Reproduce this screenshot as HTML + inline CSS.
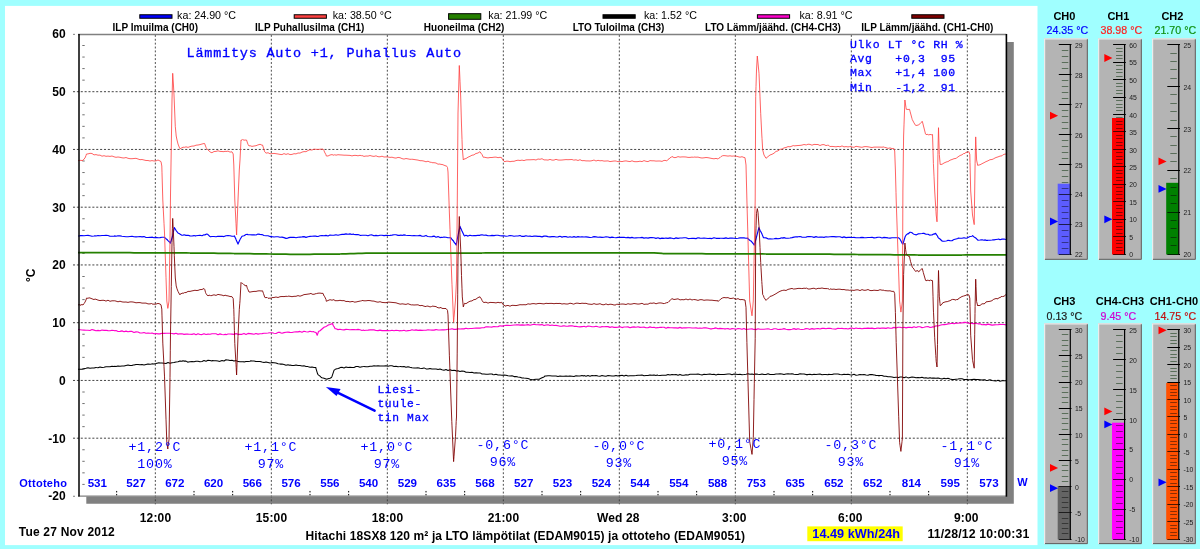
<!DOCTYPE html>
<html lang="fi"><head><meta charset="utf-8"><title>Hitachi 18SX8 lämpötilat</title>
<style>
html,body{margin:0;padding:0;background:#a0ffff;overflow:hidden}
svg{display:block;will-change:transform}
text{font-family:"Liberation Sans",sans-serif}
.b{font-weight:bold}
.m{font-family:"Liberation Mono",monospace;fill:#0000ff}
.mb{font-family:"Liberation Mono",monospace;fill:#0000ff;stroke:#0000ff;stroke-width:0.32}
.g{stroke:#333;stroke-width:0.92;stroke-dasharray:2.05 1.82;fill:none}
.gv{stroke:#3c3c3c;stroke-width:0.92;stroke-dasharray:1.9 1.97;fill:none}
</style></head><body>
<svg width="1200" height="549" viewBox="0 0 1200 549">
<rect x="0" y="0" width="1200" height="549" fill="#a0ffff"/>
<rect x="5" y="5.9" width="1032.5" height="539.2" fill="#ffffff"/>
<path d="M86.3,496.5 H1007 V42 H1013.8 V503.8 H86.3 Z" fill="#808080"/>
<rect x="78.0" y="33.95" width="928.0" height="462.00" fill="#ffffff"/>
<g class="g">
<path d="M73,91.70 H1006.0"/>
<path d="M73,149.45 H1006.0"/>
<path d="M73,207.20 H1006.0"/>
<path d="M73,264.95 H1006.0"/>
<path d="M73,322.70 H1006.0"/>
<path d="M73,380.45 H1006.0"/>
<path d="M73,438.20 H1006.0"/>
<path class="gv" d="M155.33,34.95 V504.3"/>
<path class="gv" d="M271.33,34.95 V504.3"/>
<path class="gv" d="M387.33,34.95 V504.3"/>
<path class="gv" d="M503.33,34.95 V504.3"/>
<path class="gv" d="M619.33,34.95 V504.3"/>
<path class="gv" d="M735.33,34.95 V504.3"/>
<path class="gv" d="M851.33,34.95 V504.3"/>
<path class="gv" d="M967.33,34.95 V504.3"/>
</g>
<path d="M73,34.35 h2 M73,496.25 h2" stroke="#808080" stroke-width="1" fill="none"/>
<path d="M82.3,484.40 h2.4 M82.3,472.85 h2.4 M82.3,461.30 h2.4 M82.3,449.75 h2.4 M82.3,426.65 h2.4 M82.3,415.10 h2.4 M82.3,403.55 h2.4 M82.3,392.00 h2.4 M82.3,368.90 h2.4 M82.3,357.35 h2.4 M82.3,345.80 h2.4 M82.3,334.25 h2.4 M82.3,311.15 h2.4 M82.3,299.60 h2.4 M82.3,288.05 h2.4 M82.3,276.50 h2.4 M82.3,253.40 h2.4 M82.3,241.85 h2.4 M82.3,230.30 h2.4 M82.3,218.75 h2.4 M82.3,195.65 h2.4 M82.3,184.10 h2.4 M82.3,172.55 h2.4 M82.3,161.00 h2.4 M82.3,137.90 h2.4 M82.3,126.35 h2.4 M82.3,114.80 h2.4 M82.3,103.25 h2.4 M82.3,80.15 h2.4 M82.3,68.60 h2.4 M82.3,57.05 h2.4 M82.3,45.50 h2.4" stroke="#606060" stroke-width="0.9" fill="none"/>
<path d="M116.67,495.45 v-4.5 M194.00,495.45 v-4.5 M232.67,495.45 v-4.5 M310.00,495.45 v-4.5 M348.67,495.45 v-4.5 M426.00,495.45 v-4.5 M464.67,495.45 v-4.5 M542.00,495.45 v-4.5 M580.67,495.45 v-4.5 M658.00,495.45 v-4.5 M696.67,495.45 v-4.5 M774.00,495.45 v-4.5 M812.67,495.45 v-4.5 M890.00,495.45 v-4.5 M928.67,495.45 v-4.5" stroke="#000" stroke-width="1" stroke-dasharray="1.5 1.5" fill="none"/>
<clipPath id="cp"><rect x="78.0" y="33.95" width="928.0" height="462.00"/></clipPath>
<g clip-path="url(#cp)" fill="none" stroke-linejoin="round">
<path d="M78.0,236.0 L79.8,235.9 L80.0,235.6 L82.0,235.5 L84.0,235.7 L86.0,235.5 L88.0,235.4 L90.0,235.7 L92.0,236.2 L94.0,236.0 L95.0,235.7 L96.0,236.0 L98.0,235.5 L100.0,235.8 L102.0,235.5 L104.0,235.5 L106.0,235.4 L108.0,235.5 L110.0,236.3 L112.0,236.2 L114.0,236.2 L114.8,235.9 L116.0,236.2 L118.0,235.7 L120.0,235.9 L122.0,236.3 L124.0,236.5 L126.0,236.7 L128.0,236.8 L130.0,236.5 L132.0,236.2 L134.0,236.8 L136.0,236.9 L138.0,236.8 L140.0,236.5 L142.0,236.9 L144.0,236.6 L146.0,237.5 L148.0,237.5 L150.0,237.3 L151.6,237.3 L152.0,237.1 L154.0,237.7 L156.0,237.4 L158.0,237.7 L160.0,237.6 L162.0,237.3 L164.0,237.2 L164.5,237.3 L166.0,238.7 L167.0,239.5 L168.0,240.6 L170.0,242.5 L170.3,243.2 L172.0,238.0 L172.4,236.8 L174.0,229.0 L174.3,227.5 L176.0,230.3 L178.0,233.0 L180.0,234.1 L180.5,234.6 L182.0,235.3 L183.0,235.2 L184.0,234.8 L186.0,235.4 L188.0,235.2 L190.0,235.9 L192.0,236.0 L194.0,235.6 L195.0,235.8 L196.0,235.8 L198.0,235.5 L200.0,235.2 L202.0,235.7 L204.0,234.8 L204.9,235.0 L206.0,234.3 L206.8,234.0 L208.0,234.6 L210.0,236.6 L210.4,236.8 L212.0,236.5 L214.0,236.5 L216.0,236.8 L218.0,236.2 L220.0,236.4 L222.0,236.2 L224.0,236.6 L226.0,235.7 L228.0,235.6 L230.0,235.7 L232.0,236.2 L234.0,236.0 L234.4,235.9 L236.0,239.3 L236.2,240.0 L238.0,244.1 L239.8,240.0 L240.0,239.5 L241.7,236.8 L242.0,236.3 L244.0,235.8 L246.0,234.5 L247.2,234.4 L248.0,234.6 L250.0,234.8 L252.0,234.9 L254.0,234.7 L256.0,235.0 L258.0,234.1 L260.0,234.4 L262.0,234.6 L264.0,235.5 L266.0,235.7 L268.0,235.7 L270.0,236.6 L271.2,236.4 L272.0,236.6 L274.0,237.0 L276.0,236.7 L278.0,236.8 L280.0,237.3 L282.0,237.1 L284.0,237.6 L286.0,238.4 L287.7,238.1 L288.0,237.9 L290.0,237.4 L292.0,237.3 L294.0,237.3 L296.0,237.7 L298.0,237.3 L300.0,237.1 L302.0,236.9 L304.0,236.6 L306.0,237.4 L308.0,236.7 L310.0,236.4 L312.0,236.2 L314.0,236.1 L316.0,236.1 L316.4,236.4 L318.0,236.5 L320.0,235.8 L322.0,235.5 L324.0,235.8 L326.0,235.4 L328.0,236.0 L330.0,235.0 L332.0,235.2 L334.0,235.3 L334.8,235.0 L336.0,234.8 L338.0,235.3 L340.0,234.7 L342.0,234.4 L344.0,234.4 L346.0,233.9 L348.0,234.2 L350.0,233.9 L352.0,234.5 L353.2,234.0 L354.0,234.5 L356.0,234.6 L358.0,234.5 L360.0,235.2 L360.5,235.5 L362.0,235.2 L364.0,235.2 L366.0,235.2 L368.0,235.8 L370.0,235.0 L372.0,234.9 L374.0,235.8 L376.0,235.4 L378.0,235.8 L380.0,235.3 L382.0,235.2 L384.0,235.6 L386.0,235.4 L388.0,235.5 L390.0,235.4 L392.0,235.1 L394.0,234.7 L396.0,234.8 L398.0,235.4 L400.0,235.4 L401.0,235.0 L402.0,235.5 L404.0,234.9 L406.0,235.3 L408.0,235.5 L410.0,235.5 L412.0,235.7 L414.0,235.5 L416.0,235.7 L418.0,235.8 L420.0,235.4 L422.0,236.2 L424.0,236.3 L426.0,235.4 L426.8,235.9 L428.0,236.5 L430.0,236.7 L432.0,236.6 L434.0,236.1 L436.0,237.2 L438.0,236.6 L440.0,237.6 L441.5,237.3 L442.0,237.5 L444.0,237.0 L446.0,237.2 L448.0,237.7 L450.0,237.7 L450.7,237.7 L452.0,239.5 L453.5,241.0 L454.0,242.2 L456.0,244.5 L456.2,245.1 L457.7,236.8 L458.0,235.4 L459.9,226.7 L460.0,226.4 L462.0,231.0 L464.0,235.3 L464.5,235.9 L466.0,235.3 L468.0,236.1 L470.0,235.2 L472.0,235.8 L474.0,235.6 L476.0,235.6 L478.0,235.2 L480.0,235.4 L480.1,235.0 L482.0,234.8 L484.0,235.3 L486.0,235.1 L488.0,235.7 L490.0,235.7 L492.0,235.4 L494.0,235.6 L496.0,235.2 L498.0,235.3 L500.0,235.8 L502.0,235.9 L504.0,235.8 L506.0,236.2 L508.0,236.0 L510.0,235.5 L512.0,235.8 L514.0,236.2 L516.0,236.0 L518.0,236.0 L520.0,235.5 L522.0,236.4 L524.0,236.4 L526.0,235.7 L528.0,236.2 L530.0,236.1 L532.0,236.5 L534.0,236.1 L536.0,236.1 L538.0,236.4 L540.0,236.4 L542.0,236.9 L544.0,236.1 L546.0,236.1 L548.0,236.6 L550.0,236.9 L552.0,236.6 L554.0,236.5 L556.0,237.0 L558.0,236.9 L560.0,236.3 L562.0,237.1 L564.0,236.5 L566.0,236.6 L568.0,237.2 L570.0,236.8 L572.0,237.2 L574.0,236.6 L576.0,237.3 L578.0,236.6 L580.0,237.0 L582.0,236.7 L584.0,237.0 L586.0,236.9 L588.0,237.1 L590.0,237.5 L592.0,237.3 L594.0,236.6 L596.0,236.9 L598.0,237.2 L600.0,237.1 L602.0,237.4 L604.0,237.2 L606.0,236.8 L608.0,237.0 L610.0,237.6 L612.0,237.1 L614.0,237.5 L616.0,237.8 L618.0,237.4 L620.0,237.5 L620.4,237.3 L622.0,237.4 L624.0,237.2 L626.0,237.8 L628.0,237.4 L630.0,237.9 L632.0,237.4 L634.0,238.0 L636.0,237.9 L638.0,237.8 L640.0,237.7 L642.0,237.4 L644.0,238.1 L646.0,237.7 L648.0,238.1 L650.0,237.6 L652.0,237.6 L654.0,237.7 L656.0,238.4 L658.0,237.8 L660.0,238.6 L662.0,238.1 L664.0,238.4 L664.5,238.3 L666.0,238.1 L668.0,238.4 L670.0,237.9 L672.0,238.2 L674.0,238.7 L676.0,237.9 L678.0,238.4 L680.0,238.0 L682.0,238.0 L684.0,237.7 L686.0,237.7 L688.0,238.6 L690.0,238.5 L692.0,238.4 L694.0,238.4 L696.0,238.6 L698.0,237.8 L700.0,238.1 L702.0,238.2 L704.0,238.1 L706.0,238.2 L708.0,238.5 L710.0,238.4 L712.0,238.6 L714.0,237.7 L716.0,238.3 L718.0,238.3 L720.0,238.3 L722.0,238.2 L724.0,238.4 L726.0,237.9 L728.0,238.5 L730.0,238.1 L732.0,238.0 L734.0,238.2 L736.0,238.5 L738.0,238.3 L740.0,237.9 L742.0,237.8 L744.0,237.9 L746.0,238.2 L747.8,238.1 L748.0,238.8 L750.0,240.5 L751.0,241.0 L752.0,242.1 L754.0,244.6 L754.3,245.1 L756.0,239.0 L756.1,238.6 L758.0,231.1 L758.9,227.6 L760.0,230.2 L761.0,232.0 L762.0,234.1 L763.5,237.7 L764.0,237.8 L766.0,237.9 L768.0,238.7 L768.1,239.0 L770.0,238.9 L772.0,239.0 L774.0,238.8 L776.0,238.4 L778.0,238.8 L780.0,238.4 L782.0,237.8 L782.8,238.1 L784.0,237.6 L786.0,238.3 L788.0,238.2 L790.0,238.0 L792.0,237.6 L794.0,237.1 L796.0,236.8 L798.0,236.8 L800.0,236.6 L801.2,236.8 L802.0,237.2 L804.0,237.2 L806.0,237.1 L808.0,236.5 L810.0,236.6 L812.0,236.7 L814.0,237.4 L816.0,236.6 L818.0,237.2 L820.0,237.1 L822.0,237.0 L824.0,237.4 L826.0,236.8 L828.0,237.0 L830.0,236.7 L832.0,236.6 L834.0,236.6 L836.0,236.9 L838.0,236.7 L840.0,236.7 L842.0,237.6 L844.0,236.9 L846.0,237.6 L848.0,237.4 L850.0,237.2 L852.0,237.5 L854.0,237.4 L856.0,237.7 L858.0,237.7 L860.0,237.6 L862.0,237.4 L864.0,237.6 L866.0,237.7 L868.0,237.5 L870.0,237.5 L872.0,237.2 L874.0,237.9 L876.0,237.6 L878.0,237.2 L880.0,237.3 L882.0,238.0 L884.0,237.4 L886.0,237.6 L888.0,237.9 L890.0,238.1 L892.0,237.8 L894.0,237.7 L896.0,237.7 L898.0,237.8 L898.7,237.9 L900.0,239.2 L901.0,241.0 L902.0,243.1 L902.9,244.2 L904.0,240.5 L905.1,236.8 L906.0,235.2 L907.5,233.8 L908.0,234.0 L910.0,232.2 L910.6,232.2 L912.0,232.7 L913.0,233.6 L914.0,234.3 L915.9,234.7 L916.0,235.0 L918.0,233.9 L920.0,233.7 L922.0,233.5 L923.3,233.2 L924.0,233.4 L926.0,234.2 L927.0,234.3 L928.0,234.2 L930.0,235.2 L930.6,235.0 L932.0,235.0 L933.5,234.0 L934.0,234.1 L935.8,233.4 L936.0,234.1 L937.5,236.0 L938.0,237.3 L938.9,238.3 L940.0,239.0 L942.0,241.0 L942.6,241.1 L944.0,241.3 L946.0,241.0 L947.0,240.8 L948.0,240.3 L950.0,240.6 L952.0,240.7 L952.7,240.2 L954.0,239.5 L956.0,239.0 L958.0,238.5 L958.2,238.0 L960.0,238.2 L962.0,238.2 L964.0,237.7 L966.0,238.2 L967.4,238.0 L968.0,237.4 L970.0,236.5 L972.0,236.2 L972.6,235.6 L974.0,236.9 L975.0,237.5 L976.0,238.2 L977.5,239.8 L978.0,240.2 L980.0,240.0 L982.0,239.7 L984.0,240.2 L985.0,239.9 L986.0,240.3 L988.0,240.3 L990.0,240.2 L992.0,240.0 L993.2,239.8 L994.0,239.9 L996.0,239.5 L998.0,239.2 L998.7,239.1 L1000.0,239.7 L1002.0,239.1 L1004.0,239.0 L1006.0,239.5" stroke="#0000ff" stroke-width="1.15"/>
<path d="M78.0,160.7 L80.0,160.3 L82.0,160.5 L83.0,160.4 L84.0,159.0 L85.0,158.0 L86.0,155.5 L86.5,154.0 L88.0,153.9 L89.0,153.6 L90.0,153.3 L92.0,153.5 L94.0,154.9 L96.0,154.6 L98.0,155.2 L100.0,155.1 L102.0,156.2 L104.0,155.7 L106.0,156.3 L108.0,156.1 L110.0,156.4 L112.0,156.0 L114.0,156.8 L116.0,157.3 L118.0,157.0 L120.0,157.3 L122.0,157.8 L124.0,158.0 L126.0,157.5 L128.0,158.3 L130.0,158.7 L132.0,158.7 L134.0,158.5 L136.0,158.3 L138.0,159.0 L140.0,159.7 L142.0,159.5 L144.0,160.0 L146.0,160.5 L148.0,160.5 L150.0,161.0 L152.0,160.6 L154.0,161.0 L156.0,160.9 L158.0,160.0 L160.0,161.0 L161.0,161.6 L161.8,166.0 L162.0,172.8 L162.8,200.0 L164.0,223.3 L164.5,233.0 L166.0,277.3 L166.8,301.0 L167.8,308.4 L168.0,307.7 L169.0,301.0 L170.0,240.0 L170.5,195.0 L171.3,146.0 L172.0,100.0 L172.7,73.3 L173.4,84.0 L174.0,95.0 L175.3,126.7 L176.0,133.9 L176.2,136.0 L177.0,140.0 L178.0,144.0 L179.7,148.3 L180.0,148.8 L181.0,148.4 L182.0,147.6 L184.0,147.1 L184.7,147.3 L186.0,146.8 L188.0,147.4 L190.0,146.6 L192.0,146.1 L194.0,146.0 L196.0,145.2 L198.0,145.0 L200.0,144.6 L202.0,144.0 L204.0,143.5 L204.6,143.5 L205.5,146.0 L206.0,147.3 L206.5,148.3 L208.0,150.0 L210.0,151.8 L211.0,152.5 L212.0,152.7 L214.0,151.5 L216.0,151.4 L218.0,150.8 L220.0,151.4 L222.0,151.5 L224.0,151.7 L225.0,151.2 L226.0,151.5 L228.0,151.1 L230.0,152.1 L232.0,151.8 L233.2,154.0 L233.8,165.0 L234.0,172.0 L234.8,200.0 L236.0,223.3 L236.6,235.0 L238.0,200.0 L239.3,170.0 L240.0,160.0 L241.0,140.0 L242.0,140.2 L242.6,139.5 L244.0,140.2 L246.0,140.0 L246.5,140.0 L247.5,143.0 L248.0,144.3 L249.0,146.0 L250.0,145.7 L252.0,146.4 L254.0,146.0 L256.0,145.7 L258.0,144.9 L260.0,144.3 L261.0,144.6 L262.0,145.3 L262.5,145.0 L263.5,148.0 L264.0,149.6 L264.7,151.8 L266.0,153.1 L267.0,153.0 L268.0,152.7 L270.0,153.8 L271.3,153.7 L272.0,153.6 L274.0,153.4 L276.0,153.7 L278.0,154.0 L280.0,154.4 L282.0,154.6 L284.0,153.6 L286.0,154.4 L288.0,153.7 L290.0,154.6 L292.0,154.4 L294.0,153.7 L296.0,153.9 L298.0,153.0 L300.0,153.1 L302.0,152.1 L304.0,151.6 L306.0,151.7 L308.0,150.5 L310.0,149.7 L311.0,150.0 L312.0,150.0 L314.0,149.2 L316.0,149.3 L318.0,149.5 L320.0,149.2 L322.0,149.2 L323.0,149.0 L324.0,150.6 L324.5,152.0 L326.0,154.8 L326.3,156.0 L328.0,156.0 L330.0,155.0 L332.0,154.6 L334.0,155.3 L334.7,154.7 L336.0,155.2 L338.0,154.7 L340.0,154.9 L342.0,155.0 L344.0,155.2 L346.0,155.2 L348.0,155.3 L350.0,155.4 L352.0,155.9 L354.0,155.4 L356.0,155.4 L358.0,155.8 L360.0,155.3 L361.3,155.7 L362.0,155.5 L364.0,156.4 L366.0,156.0 L368.0,156.1 L370.0,155.5 L372.0,156.1 L374.0,156.4 L376.0,155.8 L378.0,156.7 L380.0,156.8 L382.0,156.2 L384.0,157.0 L386.0,156.9 L388.0,157.0 L390.0,157.4 L392.0,157.2 L394.0,157.8 L396.0,158.1 L398.0,157.4 L400.0,157.7 L402.0,158.6 L404.0,159.1 L406.0,158.5 L408.0,158.9 L410.0,159.3 L411.3,159.3 L412.0,159.2 L414.0,159.5 L416.0,159.8 L418.0,160.1 L420.0,160.7 L422.0,160.7 L424.0,161.1 L426.0,161.8 L428.0,161.2 L430.0,162.2 L431.3,162.3 L432.0,162.7 L434.0,162.7 L436.0,163.0 L438.0,164.2 L440.0,164.0 L441.0,164.5 L442.0,164.4 L444.0,165.2 L446.0,166.0 L446.3,165.8 L447.5,167.5 L448.0,172.0 L449.4,213.0 L450.0,229.8 L451.8,280.0 L452.0,284.7 L453.6,322.3 L454.0,317.6 L455.5,300.0 L456.0,290.0 L456.5,280.0 L457.2,213.0 L458.0,113.0 L459.3,65.5 L460.0,81.2 L460.7,97.0 L461.5,125.0 L462.0,139.4 L462.3,148.0 L463.3,160.0 L464.0,159.1 L466.0,158.5 L468.0,157.2 L470.0,156.3 L472.0,155.2 L474.0,154.9 L475.0,154.0 L476.0,153.5 L478.0,153.0 L480.0,151.7 L481.5,154.0 L482.0,154.5 L483.3,157.3 L484.0,157.1 L486.0,157.6 L488.0,157.9 L490.0,157.5 L492.0,157.5 L494.0,157.2 L496.0,157.1 L498.0,157.7 L500.0,157.3 L501.7,157.7 L502.0,158.6 L503.0,160.0 L504.0,161.3 L505.0,161.7 L506.0,161.2 L508.0,161.2 L510.0,161.7 L512.0,161.3 L514.0,161.3 L516.0,160.6 L518.0,160.2 L520.0,160.5 L522.0,160.1 L524.0,160.6 L526.0,159.9 L528.0,159.8 L530.0,159.8 L532.0,159.7 L534.0,159.6 L536.0,160.0 L538.0,159.0 L540.0,159.3 L542.0,158.7 L544.0,159.9 L546.0,159.9 L548.0,160.1 L550.0,159.4 L552.0,160.1 L554.0,160.1 L556.0,159.3 L558.0,160.0 L560.0,160.1 L562.0,160.0 L564.0,159.8 L566.0,159.6 L568.0,159.7 L570.0,159.6 L572.0,159.5 L573.3,160.0 L574.0,160.1 L576.0,159.8 L578.0,160.5 L580.0,159.7 L582.0,160.7 L584.0,160.6 L586.0,160.9 L588.0,160.9 L590.0,161.0 L592.0,160.7 L594.0,160.0 L596.0,161.0 L598.0,160.3 L600.0,160.8 L602.0,160.6 L604.0,161.1 L606.0,161.0 L608.0,160.9 L610.0,161.6 L612.0,161.3 L614.0,161.0 L616.0,161.0 L616.7,161.3 L618.0,161.7 L620.0,161.3 L622.0,161.6 L624.0,161.1 L626.0,160.9 L628.0,161.3 L630.0,161.6 L632.0,160.8 L634.0,161.6 L636.0,161.7 L638.0,161.6 L640.0,161.2 L642.0,161.6 L644.0,160.6 L646.0,161.3 L648.0,161.6 L650.0,160.6 L652.0,160.8 L654.0,160.8 L656.0,161.1 L658.0,161.0 L660.0,161.0 L662.0,161.4 L664.0,160.4 L666.0,160.5 L666.7,161.0 L668.0,159.4 L669.0,159.0 L670.0,157.8 L671.7,157.0 L672.0,156.5 L674.0,157.6 L676.0,157.5 L678.0,156.6 L680.0,157.1 L682.0,156.9 L684.0,156.9 L686.0,157.0 L688.0,157.4 L690.0,157.4 L692.0,157.1 L693.3,157.3 L694.0,157.0 L696.0,157.2 L698.0,157.1 L700.0,157.7 L702.0,158.0 L704.0,157.8 L706.0,157.5 L708.0,157.7 L710.0,158.1 L712.0,158.5 L714.0,158.8 L716.0,158.4 L718.0,159.0 L718.3,158.7 L720.0,157.5 L720.5,157.0 L722.0,156.0 L722.7,155.7 L724.0,155.6 L726.0,155.8 L728.0,156.1 L730.0,155.8 L732.0,156.2 L733.3,156.0 L734.0,156.1 L736.0,156.1 L738.0,156.7 L740.0,157.2 L742.0,156.7 L744.0,157.5 L745.0,157.7 L746.0,165.0 L746.9,200.0 L748.0,239.7 L749.7,301.0 L750.0,302.9 L752.0,315.8 L753.3,301.0 L754.0,263.8 L755.2,200.0 L755.7,96.7 L756.0,86.7 L756.5,70.0 L757.3,56.0 L758.0,63.0 L758.2,65.0 L759.0,73.3 L760.0,96.8 L760.7,113.3 L761.8,135.0 L762.0,138.3 L762.7,150.0 L764.0,155.0 L766.0,158.3 L768.0,156.6 L770.0,155.0 L772.0,154.3 L774.0,153.2 L776.0,151.4 L778.0,150.9 L780.0,149.3 L782.0,149.1 L784.0,147.9 L786.0,147.5 L788.0,146.6 L790.0,146.8 L792.0,146.1 L793.3,145.5 L794.0,145.9 L796.0,145.7 L798.0,145.5 L800.0,145.4 L802.0,145.1 L804.0,144.5 L806.0,144.9 L806.7,144.8 L808.0,144.2 L810.0,144.4 L812.0,145.2 L814.0,144.4 L816.0,144.5 L818.0,144.5 L820.0,145.5 L822.0,144.7 L824.0,144.6 L826.0,145.6 L827.6,145.2 L828.0,144.9 L829.4,146.1 L830.0,146.5 L832.0,146.4 L834.0,146.6 L836.0,146.8 L838.0,146.4 L840.0,146.8 L842.0,145.9 L844.0,146.9 L846.0,146.6 L848.0,146.9 L849.7,146.7 L850.0,146.2 L852.0,147.0 L854.0,147.3 L856.0,146.3 L858.0,146.7 L860.0,147.0 L862.0,147.3 L864.0,146.7 L866.0,146.6 L868.0,146.8 L870.0,147.2 L872.0,147.5 L874.0,147.1 L876.0,147.1 L878.0,147.1 L880.0,147.1 L882.0,147.2 L884.0,146.9 L884.6,147.4 L886.0,147.6 L888.0,148.4 L890.0,147.9 L892.0,148.6 L893.8,148.5 L894.0,148.6 L894.7,151.0 L895.4,170.0 L896.0,192.5 L896.2,200.0 L898.0,253.5 L899.6,301.0 L900.0,304.4 L900.9,312.1 L902.0,304.0 L902.4,301.0 L902.9,191.0 L903.6,136.0 L904.0,124.9 L904.9,100.0 L905.6,105.0 L906.0,107.5 L906.3,109.3 L908.0,109.5 L909.5,109.3 L910.0,111.2 L912.0,118.7 L912.2,119.4 L914.0,122.9 L915.5,125.3 L916.0,125.5 L918.0,125.1 L918.7,125.0 L920.0,123.5 L920.5,123.0 L922.0,121.8 L922.3,121.3 L924.0,128.0 L925.5,134.0 L926.0,134.6 L928.0,134.3 L928.8,135.0 L930.0,134.4 L932.0,134.9 L932.5,134.5 L933.0,150.0 L933.4,163.6 L934.0,176.2 L934.7,191.0 L936.0,211.8 L936.2,215.0 L937.0,221.8 L937.5,200.0 L937.9,154.4 L938.0,149.9 L938.5,127.7 L939.3,154.4 L940.0,162.3 L940.2,164.5 L942.0,164.3 L944.0,163.0 L946.0,162.1 L947.2,161.7 L948.0,161.6 L950.0,160.2 L952.0,159.5 L954.0,158.7 L956.0,158.4 L956.4,158.1 L958.0,156.9 L960.0,155.5 L962.0,154.8 L963.7,153.5 L964.0,153.9 L966.0,152.4 L968.0,152.2 L968.9,151.6 L969.8,154.4 L970.0,162.5 L970.7,191.0 L972.0,208.3 L972.5,215.0 L974.0,223.5 L974.2,224.6 L974.7,191.0 L975.1,163.6 L975.7,136.9 L976.0,144.6 L976.6,160.0 L977.7,165.4 L978.0,165.2 L980.0,164.8 L982.0,163.7 L984.0,162.7 L986.0,161.6 L988.0,160.8 L990.0,159.7 L992.0,159.5 L993.2,159.0 L994.0,158.5 L996.0,157.5 L998.0,156.9 L1000.0,156.1 L1002.0,155.8 L1002.4,155.3 L1004.0,154.3 L1006.0,154.0" stroke="#ff4040" stroke-width="0.82"/>
<path d="M78.0,252.6 L82.0,252.6 L86.0,252.6 L90.0,252.6 L94.0,252.6 L98.0,252.7 L102.0,252.7 L106.0,252.7 L110.0,252.7 L114.0,252.7 L118.0,252.7 L122.0,252.7 L126.0,252.7 L130.0,252.7 L134.0,252.8 L138.0,252.8 L142.0,252.8 L146.0,252.8 L150.0,252.8 L151.0,252.8 L154.0,252.8 L158.0,252.8 L162.0,252.8 L166.0,252.9 L170.0,252.9 L174.0,252.9 L178.0,252.9 L182.0,252.9 L186.0,252.9 L190.0,253.0 L194.0,253.0 L198.0,253.0 L200.0,253.0 L202.0,253.0 L206.0,253.1 L210.0,253.1 L214.0,253.2 L218.0,253.3 L222.0,253.3 L226.0,253.4 L230.0,253.4 L234.0,253.5 L238.0,253.5 L242.0,253.6 L246.0,253.7 L250.0,253.7 L254.0,253.8 L258.0,253.8 L262.0,253.9 L266.0,253.9 L270.0,254.0 L274.0,254.1 L278.0,254.1 L282.0,254.2 L286.0,254.2 L290.0,254.3 L294.0,254.3 L298.0,254.4 L302.0,254.4 L306.0,254.3 L310.0,254.3 L314.0,254.2 L318.0,254.2 L322.0,254.2 L326.0,254.1 L330.0,254.1 L334.0,254.1 L338.0,254.0 L340.0,254.0 L342.0,253.9 L346.0,253.8 L350.0,253.7 L354.0,253.6 L358.0,253.4 L362.0,253.3 L366.0,253.2 L370.0,253.1 L371.6,253.0 L374.0,253.0 L378.0,253.0 L382.0,253.0 L386.0,253.0 L390.0,253.0 L394.0,253.0 L398.0,253.0 L402.0,253.0 L406.0,253.0 L410.0,253.0 L414.0,253.0 L418.0,253.0 L422.0,253.0 L426.0,253.0 L430.0,253.0 L434.0,253.0 L438.0,253.0 L442.0,253.0 L446.0,253.0 L450.0,253.0 L454.0,253.0 L458.0,253.0 L462.0,253.0 L466.0,253.0 L470.0,253.0 L474.0,253.0 L478.0,253.0 L482.0,253.0 L486.0,252.9 L490.0,252.9 L494.0,252.9 L498.0,252.9 L502.0,252.9 L506.0,252.9 L510.0,252.9 L514.0,252.9 L518.0,252.9 L522.0,252.9 L526.0,252.9 L530.0,252.9 L534.0,252.9 L538.0,252.9 L542.0,252.9 L546.0,252.9 L550.0,252.9 L554.0,252.9 L558.0,252.9 L562.0,252.9 L566.0,252.9 L570.0,252.9 L574.0,252.9 L578.0,252.9 L582.0,252.9 L586.0,252.8 L590.0,252.8 L594.0,252.8 L598.0,252.8 L602.0,252.8 L606.0,252.8 L610.0,252.8 L614.0,252.8 L618.0,252.8 L622.0,252.8 L626.0,252.8 L630.0,252.8 L634.0,252.8 L638.0,252.8 L642.0,252.8 L646.0,252.8 L650.0,252.8 L653.5,252.8 L654.0,252.8 L658.0,253.1 L662.0,253.4 L662.7,253.5 L666.0,253.5 L670.0,253.5 L674.0,253.6 L678.0,253.6 L682.0,253.6 L686.0,253.6 L690.0,253.7 L694.0,253.7 L698.0,253.7 L702.0,253.7 L706.0,253.8 L710.0,253.8 L714.0,253.8 L718.0,253.8 L722.0,253.9 L726.0,253.9 L730.0,253.9 L734.0,253.9 L738.0,253.9 L742.0,253.9 L746.0,253.9 L750.0,253.9 L754.0,253.9 L758.0,253.9 L762.0,253.9 L766.0,254.0 L770.0,254.0 L774.0,254.0 L778.0,254.0 L782.0,254.0 L786.0,254.0 L790.0,254.0 L794.0,254.0 L798.0,254.0 L800.0,254.0 L802.0,254.0 L806.0,254.0 L810.0,254.1 L814.0,254.1 L818.0,254.1 L822.0,254.2 L826.0,254.2 L830.0,254.2 L834.0,254.3 L838.0,254.3 L842.0,254.3 L846.0,254.4 L850.0,254.4 L854.0,254.4 L858.0,254.5 L862.0,254.5 L866.0,254.5 L870.0,254.6 L874.0,254.6 L878.0,254.6 L882.0,254.7 L886.0,254.7 L890.0,254.7 L894.0,254.8 L898.0,254.8 L900.0,254.8 L902.0,254.8 L906.0,254.9 L910.0,254.9 L914.0,254.9 L918.0,255.0 L920.0,255.0 L922.0,255.0 L926.0,255.0 L930.0,255.0 L934.0,255.0 L938.0,255.0 L942.0,255.0 L946.0,255.0 L950.0,255.0 L954.0,255.0 L958.0,255.0 L962.0,255.0 L966.0,254.9 L970.0,254.9 L974.0,254.9 L978.0,254.9 L982.0,254.9 L986.0,254.9 L990.0,254.9 L994.0,254.9 L998.0,254.9 L1002.0,254.9 L1006.0,254.9" stroke="#258000" stroke-width="1.75"/>
<path d="M78.0,369.2 L80.0,369.3 L82.0,369.2 L84.0,368.7 L86.0,368.3 L88.0,367.8 L90.0,368.3 L92.0,368.0 L94.0,368.1 L96.0,367.5 L96.4,367.6 L98.0,367.8 L100.0,367.1 L102.0,367.5 L104.0,367.3 L106.0,366.8 L108.0,366.8 L110.0,366.8 L112.0,366.2 L114.0,366.4 L114.8,366.3 L116.0,366.5 L118.0,365.9 L120.0,366.3 L122.0,366.0 L124.0,366.0 L126.0,365.4 L128.0,365.0 L130.0,365.6 L132.0,365.5 L133.2,365.1 L134.0,365.0 L136.0,364.5 L138.0,364.5 L140.0,364.8 L142.0,364.4 L144.0,364.9 L146.0,364.4 L148.0,363.9 L150.0,364.3 L151.6,364.0 L152.0,363.8 L154.0,364.0 L156.0,363.6 L158.0,362.9 L158.9,362.7 L160.0,362.9 L162.0,363.0 L164.0,363.2 L166.0,363.5 L168.0,362.6 L170.0,363.2 L172.0,362.7 L174.0,362.6 L176.0,361.9 L178.0,361.8 L180.0,360.9 L182.0,361.3 L182.9,360.8 L184.0,361.1 L186.0,361.1 L188.0,362.2 L188.4,362.1 L190.0,361.8 L192.0,361.6 L194.0,361.7 L196.0,361.2 L198.0,361.2 L200.0,361.7 L202.0,361.4 L204.0,360.6 L206.0,361.2 L208.0,360.3 L210.0,360.5 L212.0,360.9 L212.3,360.5 L214.0,360.8 L216.0,360.8 L218.0,361.1 L219.6,361.4 L220.0,361.2 L222.0,360.5 L224.0,361.0 L226.0,359.7 L227.0,359.9 L228.0,359.9 L230.0,360.5 L232.0,360.3 L234.0,361.1 L236.0,360.6 L238.0,361.6 L240.0,361.7 L242.0,361.7 L243.6,361.7 L244.0,362.0 L246.0,361.4 L248.0,361.5 L250.0,361.2 L250.9,360.8 L252.0,360.9 L254.0,361.1 L256.0,361.6 L258.0,361.5 L260.0,361.5 L262.0,362.1 L264.0,362.5 L266.0,362.1 L268.0,362.5 L270.0,362.9 L271.2,362.7 L272.0,362.5 L274.0,362.7 L276.0,363.1 L278.0,363.8 L280.0,363.9 L280.3,364.1 L282.0,364.1 L284.0,364.5 L286.0,365.2 L288.0,364.8 L289.5,365.2 L290.0,365.1 L292.0,365.6 L294.0,365.4 L296.0,365.1 L298.0,365.4 L300.0,365.6 L302.0,365.9 L304.0,365.8 L306.0,366.4 L308.0,366.6 L308.4,366.8 L310.0,367.2 L312.0,366.9 L314.0,367.4 L315.8,367.4 L316.0,368.6 L317.6,373.8 L318.0,374.6 L320.0,376.1 L321.3,377.5 L322.0,377.8 L324.0,378.2 L326.0,378.9 L326.8,379.3 L328.0,378.8 L330.0,378.3 L331.4,377.5 L332.0,376.4 L334.0,370.4 L334.2,370.1 L336.0,368.9 L338.0,368.5 L339.7,367.9 L340.0,367.4 L342.0,367.3 L344.0,367.9 L346.0,367.1 L348.0,367.6 L350.0,367.2 L352.0,367.6 L354.0,367.4 L356.0,366.5 L358.0,366.5 L360.0,367.2 L362.0,366.7 L363.6,366.5 L364.0,366.4 L366.0,366.7 L368.0,366.7 L370.0,366.3 L372.0,366.2 L374.0,365.8 L376.0,366.0 L378.0,365.7 L380.0,366.1 L382.0,365.9 L384.0,366.1 L386.0,365.7 L388.0,366.2 L390.0,365.8 L392.0,365.8 L394.0,366.4 L396.0,366.3 L398.0,366.8 L400.0,366.6 L400.4,366.5 L402.0,366.8 L404.0,366.4 L406.0,367.3 L408.0,366.7 L410.0,367.3 L412.0,367.8 L414.0,367.9 L416.0,368.1 L418.0,367.8 L418.8,367.9 L420.0,368.2 L422.0,368.4 L424.0,367.9 L426.0,368.9 L428.0,369.0 L430.0,368.6 L432.0,369.1 L434.0,368.9 L436.0,368.9 L437.2,369.2 L438.0,369.5 L440.0,369.0 L442.0,369.8 L444.0,370.2 L446.0,369.6 L448.0,370.4 L450.0,369.7 L452.0,370.6 L454.0,370.2 L455.6,370.5 L456.0,371.0 L458.0,370.7 L460.0,371.5 L462.0,370.9 L464.0,371.2 L466.0,372.2 L468.0,372.3 L470.0,372.4 L472.0,372.2 L474.0,372.9 L476.0,372.7 L478.0,373.1 L480.0,372.9 L482.0,374.0 L484.0,374.0 L486.0,374.3 L488.0,374.2 L490.0,374.0 L492.0,373.9 L492.4,374.4 L494.0,374.8 L496.0,374.3 L498.0,375.0 L500.0,375.1 L502.0,375.3 L504.0,375.0 L506.0,375.2 L508.0,375.8 L510.0,376.0 L512.0,375.8 L514.0,376.6 L516.0,376.6 L518.0,377.0 L520.0,377.2 L522.0,377.9 L524.0,378.1 L526.0,378.2 L528.0,378.5 L530.0,379.2 L532.0,379.8 L533.9,379.7 L534.0,379.6 L536.0,379.2 L538.0,379.2 L539.4,379.3 L540.0,378.7 L542.0,377.8 L544.0,376.9 L545.0,376.0 L546.0,376.1 L548.0,375.7 L550.0,375.8 L552.0,375.9 L554.0,375.9 L556.0,375.9 L558.0,376.5 L560.0,376.1 L562.0,376.2 L564.0,376.2 L566.0,376.1 L568.0,376.3 L570.0,375.9 L572.0,376.2 L574.0,376.5 L576.0,375.7 L578.0,376.1 L580.0,375.9 L582.0,375.6 L583.6,376.0 L584.0,375.5 L586.0,376.2 L588.0,375.6 L590.0,376.2 L592.0,375.5 L594.0,375.8 L596.0,375.4 L598.0,375.9 L600.0,376.2 L602.0,375.6 L604.0,375.9 L606.0,376.2 L608.0,375.6 L610.0,375.8 L612.0,376.0 L614.0,376.1 L616.0,375.4 L618.0,375.9 L620.0,375.3 L620.4,375.7 L622.0,375.3 L624.0,376.1 L626.0,375.2 L628.0,376.0 L630.0,375.8 L632.0,375.7 L634.0,375.7 L636.0,375.6 L638.0,375.2 L640.0,375.3 L642.0,375.0 L644.0,375.7 L646.0,375.6 L648.0,375.5 L650.0,374.9 L652.0,375.3 L654.0,374.9 L656.0,375.4 L657.2,375.1 L658.0,375.3 L660.0,375.6 L662.0,375.3 L664.0,375.2 L666.0,375.3 L668.0,374.6 L670.0,375.0 L672.0,374.5 L674.0,374.8 L676.0,374.5 L678.0,375.3 L680.0,374.4 L682.0,375.2 L684.0,375.2 L686.0,374.7 L688.0,375.1 L690.0,374.3 L692.0,374.3 L694.0,374.2 L696.0,374.2 L698.0,374.1 L700.0,374.6 L702.0,374.9 L704.0,374.2 L706.0,374.6 L708.0,374.3 L710.0,374.1 L712.0,374.4 L714.0,374.2 L716.0,374.9 L718.0,374.3 L720.0,374.5 L722.0,374.5 L724.0,374.5 L726.0,374.3 L728.0,374.1 L730.0,374.0 L732.0,374.7 L734.0,374.0 L736.0,374.2 L738.0,374.6 L740.0,374.3 L742.0,374.7 L744.0,374.5 L746.0,374.2 L748.0,373.8 L750.0,374.2 L752.0,374.1 L754.0,374.5 L755.2,374.1 L756.0,374.1 L758.0,374.3 L760.0,374.4 L762.0,374.1 L764.0,374.5 L766.0,374.5 L768.0,373.8 L770.0,374.6 L772.0,374.5 L774.0,374.5 L776.0,374.0 L778.0,373.9 L780.0,373.8 L782.0,374.0 L784.0,374.5 L786.0,374.0 L788.0,373.7 L790.0,374.0 L792.0,373.8 L794.0,374.3 L796.0,374.5 L798.0,374.6 L800.0,373.8 L802.0,374.1 L804.0,373.9 L806.0,374.6 L808.0,374.6 L810.0,374.3 L812.0,374.7 L814.0,374.3 L816.0,374.5 L818.0,374.3 L820.0,374.1 L822.0,374.8 L824.0,374.6 L826.0,374.4 L828.0,374.7 L828.8,374.3 L830.0,374.5 L832.0,374.6 L834.0,373.9 L836.0,374.0 L838.0,374.0 L840.0,374.6 L842.0,374.7 L844.0,374.2 L846.0,374.6 L848.0,374.2 L850.0,374.8 L852.0,374.9 L854.0,374.3 L856.0,375.2 L858.0,374.9 L860.0,374.4 L862.0,374.7 L864.0,374.5 L866.0,375.1 L868.0,375.3 L870.0,374.6 L872.0,374.6 L874.0,375.1 L874.8,375.0 L876.0,375.5 L878.0,375.6 L880.0,375.6 L882.0,375.5 L884.0,376.2 L885.8,376.3 L886.0,376.3 L888.0,376.8 L890.0,376.7 L892.0,377.1 L894.0,377.5 L896.0,377.3 L897.5,377.3 L898.0,377.7 L900.0,377.1 L902.0,376.9 L904.0,377.8 L906.0,376.9 L908.0,377.9 L910.0,377.4 L912.0,377.0 L914.0,377.3 L915.0,377.5 L916.0,377.8 L918.0,377.5 L920.0,377.8 L922.0,377.3 L924.0,378.1 L926.0,377.8 L928.0,378.3 L930.0,377.7 L932.0,378.3 L932.5,378.1 L934.0,378.1 L936.0,378.2 L938.0,377.9 L940.0,378.5 L942.0,378.9 L944.0,378.2 L946.0,378.7 L948.0,378.3 L950.0,378.9 L952.0,379.4 L954.0,379.5 L956.0,379.2 L958.0,379.1 L960.0,378.7 L962.0,378.8 L964.0,379.4 L966.0,379.6 L967.5,379.3 L968.0,379.8 L970.0,379.7 L972.0,379.4 L974.0,379.2 L976.0,379.6 L978.0,379.4 L980.0,379.7 L982.0,380.1 L984.0,379.7 L985.0,379.8 L986.0,380.4 L988.0,380.3 L990.0,379.8 L992.0,380.6 L994.0,380.7 L996.0,380.9 L996.7,380.8 L998.0,380.3 L1000.0,381.2 L1002.0,380.8 L1004.0,380.8 L1006.0,380.8" stroke="#000000" stroke-width="1.05"/>
<path d="M78.0,329.6 L80.0,329.8 L82.0,330.0 L84.0,330.1 L86.0,330.3 L88.0,330.2 L90.0,330.5 L92.0,329.5 L94.0,330.1 L96.0,330.7 L98.0,330.4 L100.0,330.8 L102.0,330.0 L104.0,330.4 L106.0,330.2 L108.0,330.6 L110.0,330.7 L112.0,330.2 L114.0,330.5 L114.8,330.8 L116.0,330.6 L118.0,331.5 L120.0,331.4 L122.0,330.9 L124.0,331.7 L126.0,331.1 L128.0,331.8 L130.0,331.4 L132.0,331.4 L134.0,332.5 L136.0,331.9 L138.0,332.0 L140.0,333.0 L142.0,333.0 L144.0,332.5 L146.0,333.3 L148.0,333.0 L150.0,333.3 L151.6,333.2 L152.0,332.9 L154.0,333.8 L156.0,333.5 L158.0,333.9 L160.0,333.9 L162.0,333.3 L164.0,333.4 L166.0,333.2 L168.0,333.3 L170.0,333.2 L172.0,333.5 L174.0,333.9 L176.0,333.3 L178.0,334.1 L180.0,333.8 L182.0,333.8 L184.0,334.4 L186.0,334.1 L188.0,334.0 L188.4,334.2 L190.0,334.2 L192.0,334.4 L194.0,333.7 L196.0,334.7 L198.0,333.7 L200.0,334.5 L202.0,334.6 L204.0,333.7 L206.0,334.5 L208.0,334.1 L210.0,334.3 L212.0,333.7 L214.0,333.7 L216.0,333.8 L218.0,334.7 L220.0,333.9 L222.0,334.5 L224.0,334.7 L225.2,334.2 L226.0,334.7 L228.0,334.0 L230.0,334.0 L232.0,334.1 L234.0,334.4 L236.0,333.6 L238.0,334.3 L240.0,334.3 L242.0,334.3 L244.0,333.4 L246.0,334.4 L248.0,333.4 L250.0,333.6 L252.0,333.9 L254.0,334.2 L256.0,333.5 L258.0,334.1 L260.0,333.7 L262.0,333.6 L264.0,333.3 L266.0,333.2 L268.0,333.0 L270.0,332.7 L272.0,332.7 L274.0,333.2 L276.0,333.5 L278.0,332.4 L280.0,332.2 L280.3,332.7 L282.0,333.2 L284.0,332.6 L286.0,332.3 L288.0,332.1 L290.0,332.4 L292.0,332.5 L294.0,332.0 L296.0,331.9 L298.0,331.9 L300.0,331.4 L302.0,332.3 L304.0,331.2 L306.0,331.7 L308.0,332.0 L310.0,331.2 L312.0,331.8 L313.9,331.5 L314.0,332.0 L316.0,332.5 L317.2,335.2 L318.0,333.1 L318.5,331.5 L320.0,330.7 L322.0,329.0 L324.0,327.3 L326.0,326.4 L326.8,326.0 L328.0,325.1 L330.0,324.5 L332.0,323.7 L332.3,323.2 L333.5,326.0 L334.0,326.6 L335.1,328.7 L336.0,328.8 L338.0,329.6 L340.0,329.3 L342.0,329.7 L344.0,329.9 L346.0,329.4 L348.0,329.5 L350.0,329.8 L352.0,329.6 L354.0,329.5 L356.0,329.7 L358.0,329.4 L360.0,329.8 L362.0,330.5 L363.6,330.0 L364.0,330.5 L366.0,330.2 L368.0,330.1 L370.0,329.9 L372.0,329.7 L374.0,329.9 L376.0,330.5 L378.0,330.6 L380.0,330.1 L382.0,330.6 L384.0,330.6 L386.0,330.6 L388.0,330.6 L390.0,330.7 L392.0,330.3 L394.0,330.7 L396.0,330.3 L398.0,330.5 L400.0,330.9 L400.4,330.6 L402.0,330.8 L404.0,330.3 L406.0,331.0 L408.0,330.6 L410.0,330.5 L412.0,329.8 L414.0,330.3 L416.0,329.9 L418.0,330.4 L420.0,330.1 L422.0,330.4 L424.0,330.2 L426.0,330.3 L428.0,329.8 L430.0,330.0 L432.0,330.1 L434.0,330.1 L436.0,329.6 L437.2,329.7 L438.0,330.0 L440.0,330.0 L442.0,329.7 L444.0,329.9 L446.0,329.8 L448.0,329.3 L450.0,329.2 L452.0,328.7 L454.0,329.4 L456.0,329.4 L458.0,328.8 L460.0,329.0 L462.0,328.9 L464.0,328.9 L466.0,328.2 L468.0,328.8 L470.0,328.5 L472.0,328.5 L474.0,328.2 L476.0,328.0 L478.0,328.1 L480.0,328.1 L482.0,327.8 L484.0,327.7 L486.0,326.8 L488.0,326.8 L490.0,327.0 L492.0,327.1 L492.4,326.9 L494.0,326.5 L496.0,326.8 L498.0,326.6 L500.0,325.8 L502.0,326.1 L504.0,325.7 L506.0,325.3 L508.0,325.3 L510.0,325.5 L512.0,325.2 L514.0,325.0 L516.0,324.9 L518.0,324.7 L520.0,325.1 L522.0,324.9 L524.0,325.1 L526.0,325.0 L528.0,324.6 L530.0,325.2 L532.0,324.7 L534.0,324.2 L536.0,324.7 L538.0,324.7 L540.0,324.9 L542.0,324.6 L544.0,325.5 L546.0,325.0 L548.0,324.7 L550.0,325.5 L552.0,325.0 L554.0,325.5 L556.0,325.4 L558.0,325.7 L560.0,326.2 L562.0,326.1 L564.0,325.7 L566.0,326.2 L568.0,326.1 L570.0,325.9 L572.0,325.7 L574.0,326.3 L576.0,326.3 L578.0,326.8 L580.0,326.9 L582.0,326.6 L583.6,326.5 L584.0,326.3 L586.0,327.0 L588.0,326.0 L590.0,326.2 L592.0,326.7 L594.0,326.8 L596.0,326.3 L598.0,326.8 L600.0,327.2 L602.0,326.6 L604.0,326.7 L606.0,326.5 L608.0,326.6 L610.0,327.4 L612.0,326.8 L614.0,327.4 L616.0,327.4 L618.0,327.1 L620.0,326.7 L622.0,327.6 L624.0,327.0 L626.0,327.0 L628.0,326.9 L630.0,327.7 L632.0,327.1 L634.0,326.9 L636.0,327.2 L638.0,326.8 L640.0,327.4 L642.0,327.2 L644.0,327.1 L646.0,327.7 L648.0,327.7 L650.0,326.9 L652.0,327.5 L654.0,327.2 L656.0,328.0 L657.2,327.5 L658.0,327.8 L660.0,327.3 L662.0,327.3 L664.0,327.2 L666.0,328.2 L668.0,327.4 L670.0,327.8 L672.0,327.7 L674.0,327.9 L676.0,327.9 L678.0,328.1 L680.0,327.4 L682.0,328.1 L684.0,327.7 L686.0,327.9 L688.0,327.8 L690.0,327.7 L692.0,328.0 L694.0,328.0 L696.0,327.9 L698.0,328.3 L700.0,328.1 L702.0,328.2 L704.0,327.7 L706.0,327.9 L708.0,328.2 L710.0,328.8 L712.0,328.8 L714.0,328.4 L716.0,327.9 L718.0,328.8 L720.0,328.4 L722.0,328.6 L724.0,328.8 L726.0,328.8 L728.0,328.6 L730.0,329.2 L732.0,328.6 L734.0,328.7 L736.0,329.2 L738.0,328.5 L740.0,328.7 L742.0,329.3 L744.0,328.5 L746.0,329.4 L748.0,329.3 L750.0,329.0 L752.0,328.9 L754.0,329.5 L755.2,329.2 L756.0,329.6 L758.0,328.8 L760.0,329.2 L762.0,329.2 L764.0,329.2 L766.0,329.0 L768.0,328.8 L770.0,329.2 L772.0,329.5 L774.0,328.7 L776.0,328.8 L778.0,329.5 L780.0,329.4 L782.0,329.3 L784.0,328.6 L786.0,329.3 L788.0,329.6 L790.0,329.6 L792.0,329.3 L794.0,328.6 L796.0,329.4 L798.0,328.7 L800.0,329.2 L802.0,329.5 L804.0,329.3 L806.0,328.6 L808.0,328.8 L810.0,329.5 L810.4,329.0 L812.0,328.6 L814.0,329.1 L816.0,328.8 L818.0,328.5 L820.0,329.0 L822.0,328.4 L824.0,328.4 L826.0,328.7 L828.0,328.3 L830.0,328.3 L832.0,328.8 L834.0,329.0 L836.0,329.1 L838.0,328.2 L840.0,328.5 L842.0,328.4 L844.0,328.7 L846.0,328.5 L848.0,329.0 L850.0,328.4 L852.0,328.0 L854.0,328.7 L856.0,328.0 L858.0,328.5 L860.0,328.4 L862.0,328.8 L864.0,328.4 L865.6,328.3 L866.0,328.4 L868.0,328.1 L870.0,328.4 L872.0,328.1 L874.0,328.6 L876.0,328.4 L878.0,328.0 L880.0,328.4 L882.0,328.0 L884.0,328.1 L886.0,328.4 L888.0,327.7 L890.0,328.2 L892.0,328.1 L894.0,327.4 L896.0,328.0 L898.0,327.3 L900.0,327.2 L902.0,327.7 L903.3,327.5 L904.0,327.2 L906.0,327.9 L908.0,327.4 L910.0,327.2 L912.0,327.6 L914.0,326.8 L916.0,327.5 L918.0,326.7 L920.0,326.8 L922.0,327.6 L924.0,327.3 L926.0,326.7 L928.0,326.6 L930.0,327.5 L932.0,327.1 L932.5,326.9 L934.0,327.0 L936.0,325.8 L938.0,326.0 L940.0,325.3 L942.0,324.7 L944.0,324.5 L944.2,324.6 L946.0,324.5 L948.0,323.9 L950.0,323.7 L952.0,323.2 L954.0,323.7 L955.8,323.1 L956.0,323.2 L958.0,323.2 L960.0,322.7 L962.0,323.0 L964.0,322.4 L965.2,322.3 L966.0,322.6 L968.0,322.9 L970.0,323.5 L972.0,323.4 L973.3,323.8 L974.0,323.4 L976.0,323.5 L978.0,323.8 L980.0,323.8 L982.0,324.8 L984.0,324.5 L985.0,324.6 L986.0,324.9 L988.0,324.1 L990.0,324.6 L992.0,325.1 L994.0,324.9 L996.0,324.7 L998.0,324.7 L1000.0,324.4 L1002.0,324.5 L1004.0,324.5 L1006.0,324.9" stroke="#ff00cc" stroke-width="1.15"/>
<path d="M78.0,304.9 L79.8,304.7 L80.0,305.3 L82.0,304.5 L83.0,305.0 L84.0,303.6 L85.0,302.1 L86.0,300.0 L86.5,298.1 L88.0,298.3 L89.0,297.8 L90.0,298.0 L92.0,298.8 L94.0,299.6 L95.0,299.0 L96.0,299.3 L98.0,300.1 L100.0,300.6 L102.0,300.3 L104.0,300.3 L106.0,301.1 L108.0,300.2 L110.0,301.3 L112.0,300.8 L114.0,300.8 L114.8,300.8 L116.0,301.1 L118.0,301.8 L120.0,301.2 L122.0,301.9 L124.0,302.1 L126.0,302.0 L128.0,302.4 L130.0,301.9 L132.0,301.9 L134.0,302.2 L136.0,302.8 L138.0,302.6 L140.0,302.6 L142.0,303.1 L144.0,303.1 L146.0,303.1 L148.0,303.9 L150.0,303.9 L151.6,303.5 L152.0,304.0 L154.0,304.2 L156.0,304.1 L158.0,303.4 L160.0,304.0 L161.0,304.8 L161.8,309.1 L162.0,315.9 L162.8,343.1 L164.0,366.4 L164.5,376.1 L166.0,419.2 L166.8,442.1 L167.0,443.4 L167.8,449.0 L168.0,446.5 L169.0,439.7 L170.0,377.6 L170.3,350.2 L170.5,332.9 L171.3,286.3 L172.0,242.4 L172.4,228.4 L172.7,218.4 L173.4,232.5 L174.0,246.5 L174.3,255.3 L175.3,278.0 L176.0,284.1 L176.2,285.9 L177.0,288.8 L178.0,291.4 L179.7,294.6 L180.0,294.8 L180.5,293.8 L181.0,294.1 L182.0,293.0 L183.0,293.3 L184.0,293.0 L184.7,292.5 L186.0,292.6 L188.0,291.4 L190.0,291.4 L192.0,290.9 L194.0,290.5 L195.0,290.2 L196.0,290.5 L198.0,290.4 L200.0,289.6 L202.0,289.5 L204.0,288.5 L204.6,289.2 L204.9,290.0 L205.5,292.4 L206.0,293.6 L206.5,294.3 L206.8,295.0 L208.0,295.7 L210.0,295.1 L210.4,295.6 L211.0,295.8 L212.0,295.4 L214.0,294.8 L216.0,295.4 L218.0,294.4 L220.0,294.8 L222.0,295.1 L224.0,295.9 L225.0,295.0 L226.0,295.6 L228.0,295.9 L230.0,296.5 L232.0,296.7 L233.2,298.5 L233.8,309.5 L234.0,316.5 L234.4,330.5 L234.8,343.6 L236.0,364.2 L236.2,367.7 L236.6,375.0 L238.0,336.4 L239.3,309.3 L239.8,303.3 L240.0,300.8 L241.0,282.5 L241.7,283.2 L242.0,283.4 L242.6,283.4 L244.0,284.8 L246.0,286.0 L246.5,285.3 L247.2,287.8 L247.5,288.7 L248.0,289.7 L249.0,292.0 L250.0,292.1 L252.0,291.7 L254.0,291.4 L256.0,291.4 L258.0,290.9 L260.0,290.8 L261.0,291.0 L262.0,290.9 L262.5,290.8 L263.5,293.6 L264.0,295.0 L264.7,297.3 L266.0,297.8 L267.0,297.3 L268.0,298.3 L270.0,298.1 L271.2,298.2 L271.3,298.1 L272.0,297.6 L274.0,297.5 L276.0,297.0 L278.0,297.5 L280.0,296.7 L282.0,296.5 L284.0,296.6 L286.0,296.3 L287.7,296.4 L288.0,296.1 L290.0,296.3 L292.0,296.7 L294.0,296.3 L296.0,296.3 L298.0,295.6 L300.0,296.2 L302.0,295.5 L304.0,294.6 L306.0,294.4 L308.0,294.1 L310.0,293.8 L311.0,293.3 L312.0,294.2 L314.0,294.3 L316.0,293.6 L316.4,293.6 L318.0,293.2 L320.0,293.1 L322.0,293.4 L323.0,293.3 L324.0,296.0 L324.5,296.3 L326.0,299.5 L326.3,301.3 L328.0,300.5 L330.0,299.7 L332.0,300.2 L334.0,299.6 L334.7,300.2 L334.8,300.7 L336.0,300.7 L338.0,300.7 L340.0,300.3 L342.0,300.7 L344.0,300.6 L346.0,301.5 L348.0,301.4 L350.0,301.9 L352.0,301.5 L353.2,301.5 L354.0,302.1 L356.0,302.0 L358.0,301.5 L360.0,301.1 L360.5,301.0 L361.3,300.9 L362.0,300.4 L364.0,300.8 L366.0,300.8 L368.0,300.5 L370.0,300.6 L372.0,301.0 L374.0,301.1 L376.0,301.8 L378.0,302.2 L380.0,301.7 L382.0,302.4 L384.0,302.6 L386.0,302.7 L388.0,302.1 L390.0,302.2 L392.0,302.4 L394.0,302.6 L396.0,302.8 L398.0,303.5 L400.0,304.1 L401.0,304.1 L402.0,303.8 L404.0,304.1 L406.0,304.4 L408.0,303.7 L410.0,304.5 L411.3,304.9 L412.0,304.8 L414.0,305.0 L416.0,304.9 L418.0,304.8 L420.0,305.7 L422.0,305.4 L424.0,306.2 L426.0,306.6 L426.8,306.1 L428.0,306.1 L430.0,306.9 L431.3,306.7 L432.0,306.1 L434.0,306.3 L436.0,306.6 L438.0,307.8 L440.0,307.9 L441.0,307.3 L441.5,308.2 L442.0,308.4 L444.0,308.5 L446.0,308.5 L446.3,308.8 L447.5,310.4 L448.0,314.9 L449.4,355.8 L450.0,372.5 L450.7,392.0 L451.8,421.5 L452.0,425.9 L453.5,459.4 L453.6,461.6 L454.0,456.3 L455.5,436.4 L456.0,425.7 L456.2,421.4 L456.5,417.0 L457.2,353.9 L457.7,294.2 L458.0,258.0 L459.3,216.5 L459.9,232.7 L460.0,234.8 L460.7,249.1 L461.5,275.5 L462.0,288.8 L462.3,296.9 L463.3,306.9 L464.0,304.7 L464.5,303.3 L466.0,303.7 L468.0,302.3 L470.0,301.2 L472.0,300.9 L474.0,299.5 L475.0,299.6 L476.0,299.1 L478.0,297.6 L480.0,296.8 L480.1,297.1 L481.5,299.1 L482.0,300.4 L483.3,302.3 L484.0,302.5 L486.0,302.2 L488.0,303.1 L490.0,302.4 L492.0,302.5 L494.0,302.6 L496.0,302.9 L498.0,302.3 L500.0,302.8 L501.7,302.3 L502.0,302.9 L503.0,304.6 L504.0,304.9 L505.0,306.2 L506.0,305.8 L508.0,305.4 L510.0,306.2 L512.0,305.3 L514.0,305.4 L516.0,305.6 L518.0,305.2 L520.0,304.7 L522.0,304.8 L524.0,304.7 L526.0,304.8 L528.0,303.8 L530.0,304.2 L532.0,303.7 L534.0,303.6 L536.0,304.0 L538.0,303.5 L540.0,303.4 L542.0,303.7 L544.0,303.9 L546.0,303.3 L548.0,303.5 L550.0,303.4 L552.0,303.4 L554.0,303.7 L556.0,303.4 L558.0,303.5 L560.0,303.4 L562.0,304.0 L564.0,303.7 L566.0,304.0 L568.0,304.0 L570.0,303.2 L572.0,303.6 L573.3,304.1 L574.0,304.0 L576.0,303.2 L578.0,303.2 L580.0,303.6 L582.0,303.2 L584.0,303.4 L586.0,303.3 L588.0,304.0 L590.0,304.2 L592.0,304.4 L594.0,303.6 L596.0,304.3 L598.0,304.2 L600.0,303.7 L602.0,304.6 L604.0,304.8 L606.0,303.9 L608.0,304.8 L610.0,304.2 L612.0,304.4 L614.0,305.0 L616.0,304.9 L616.7,304.1 L618.0,304.4 L620.0,304.5 L620.4,304.2 L622.0,304.0 L624.0,304.1 L626.0,304.5 L628.0,303.7 L630.0,304.2 L632.0,304.0 L634.0,303.5 L636.0,303.8 L638.0,304.1 L640.0,303.9 L642.0,303.3 L644.0,304.4 L646.0,304.1 L648.0,304.2 L650.0,303.1 L652.0,303.3 L654.0,302.9 L656.0,303.8 L658.0,303.1 L660.0,302.9 L662.0,303.1 L664.0,303.7 L664.5,303.5 L666.0,302.9 L666.7,302.7 L668.0,302.5 L669.0,301.3 L670.0,300.7 L671.7,298.7 L672.0,298.7 L674.0,299.5 L676.0,299.2 L678.0,298.8 L680.0,299.9 L682.0,299.6 L684.0,299.8 L686.0,299.0 L688.0,299.9 L690.0,299.0 L692.0,300.0 L693.3,299.6 L694.0,299.5 L696.0,299.8 L698.0,300.4 L700.0,299.7 L702.0,299.7 L704.0,300.3 L706.0,300.0 L708.0,300.0 L710.0,300.2 L712.0,300.2 L714.0,300.5 L716.0,300.7 L718.0,300.8 L718.3,301.4 L720.0,299.5 L720.5,299.4 L722.0,298.1 L722.7,297.9 L724.0,297.5 L726.0,297.8 L728.0,297.6 L730.0,298.5 L732.0,298.4 L733.3,298.0 L734.0,298.4 L736.0,299.3 L738.0,298.6 L740.0,299.7 L742.0,299.5 L744.0,299.9 L745.0,300.0 L746.0,307.4 L746.9,342.4 L747.8,374.8 L748.0,381.8 L749.7,441.6 L750.0,443.3 L751.0,448.8 L752.0,454.4 L753.3,437.6 L754.0,399.5 L754.3,383.2 L755.2,338.6 L755.7,237.1 L756.0,228.2 L756.1,225.2 L756.5,213.4 L757.3,208.6 L758.0,212.3 L758.2,215.1 L758.9,225.1 L759.0,225.9 L760.0,247.4 L760.7,262.4 L761.0,267.7 L761.8,281.6 L762.0,284.5 L762.7,294.6 L763.5,295.8 L764.0,297.5 L766.0,300.4 L768.0,298.4 L768.1,298.6 L770.0,296.4 L772.0,295.9 L774.0,294.8 L776.0,293.7 L778.0,292.4 L780.0,291.3 L782.0,290.5 L782.8,290.4 L784.0,290.1 L786.0,290.5 L788.0,289.4 L790.0,288.9 L792.0,288.4 L793.3,289.0 L794.0,289.0 L796.0,288.8 L798.0,288.4 L800.0,288.4 L801.2,288.5 L802.0,288.6 L804.0,288.2 L806.0,288.4 L806.7,288.1 L808.0,289.0 L810.0,289.0 L812.0,288.5 L814.0,288.2 L816.0,289.1 L818.0,288.3 L820.0,288.4 L822.0,288.0 L824.0,288.5 L826.0,288.6 L827.6,288.6 L828.0,288.5 L829.4,289.5 L830.0,288.9 L832.0,289.3 L834.0,289.1 L836.0,289.5 L838.0,289.2 L840.0,289.2 L842.0,289.6 L844.0,289.5 L846.0,290.0 L848.0,290.0 L849.7,290.3 L850.0,290.1 L852.0,290.2 L854.0,290.4 L856.0,289.9 L858.0,289.8 L860.0,290.6 L862.0,289.6 L864.0,290.3 L866.0,290.2 L868.0,289.5 L870.0,290.5 L872.0,290.6 L874.0,290.2 L876.0,290.4 L878.0,290.5 L880.0,289.7 L882.0,290.2 L884.0,290.2 L884.6,290.6 L886.0,290.7 L888.0,290.9 L890.0,290.8 L892.0,291.4 L893.8,291.3 L894.0,291.9 L894.7,293.6 L895.4,312.6 L896.0,335.1 L896.2,342.6 L898.0,396.0 L898.7,416.8 L899.6,442.3 L900.0,445.2 L900.9,451.4 L901.0,450.2 L902.0,441.7 L902.4,438.1 L902.9,327.2 L903.6,274.6 L904.0,264.9 L904.9,243.0 L905.1,245.1 L905.6,249.3 L906.0,252.2 L906.3,254.4 L907.5,255.5 L908.0,256.0 L909.5,256.5 L910.0,259.1 L910.6,261.7 L912.0,266.1 L912.2,267.1 L913.0,267.8 L914.0,269.2 L915.5,271.4 L915.9,271.2 L916.0,271.0 L918.0,270.7 L918.7,271.8 L920.0,270.6 L920.5,269.8 L922.0,268.7 L922.3,268.6 L923.3,272.5 L924.0,275.0 L925.5,280.1 L926.0,280.9 L927.0,280.3 L928.0,280.2 L928.8,280.5 L930.0,280.7 L930.6,279.9 L932.0,280.8 L932.5,280.6 L933.0,296.3 L933.4,310.0 L933.5,312.2 L934.0,322.8 L934.7,337.8 L935.8,355.6 L936.0,358.5 L936.2,361.4 L937.0,367.0 L937.5,344.4 L937.9,298.2 L938.0,293.6 L938.5,270.5 L938.9,283.2 L939.3,296.2 L940.0,303.6 L940.2,305.7 L942.0,304.2 L942.6,302.9 L944.0,302.3 L946.0,301.7 L947.0,301.7 L947.2,301.7 L948.0,301.3 L950.0,300.7 L952.0,299.5 L952.7,299.4 L954.0,299.5 L956.0,300.1 L956.4,299.6 L958.0,299.5 L958.2,298.8 L960.0,297.7 L962.0,296.5 L963.7,296.0 L964.0,295.9 L966.0,295.3 L967.4,294.3 L968.0,294.7 L968.9,294.9 L969.8,298.2 L970.0,306.5 L970.7,335.2 L972.0,353.0 L972.5,359.8 L972.6,360.4 L974.0,367.2 L974.2,368.2 L974.7,334.2 L975.0,313.4 L975.1,306.5 L975.7,279.2 L976.0,286.6 L976.6,301.5 L977.5,305.1 L977.7,306.0 L978.0,305.5 L980.0,305.5 L982.0,303.8 L984.0,303.8 L985.0,303.4 L986.0,301.9 L988.0,301.6 L990.0,301.3 L992.0,300.7 L993.2,299.6 L994.0,299.2 L996.0,298.5 L998.0,298.9 L998.7,297.8 L1000.0,297.6 L1002.0,296.2 L1002.4,296.5 L1004.0,296.3 L1006.0,294.5" stroke="#800000" stroke-width="0.88"/>
</g>
<path d="M78.0,34.55 H1006.5" stroke="#808080" stroke-width="1.6" fill="none"/>
<path d="M78.0,496.15 H1006.5" stroke="#808080" stroke-width="1.4" fill="none"/>
<path d="M1006.4,33.95 V496.85" stroke="#000" stroke-width="1.6" fill="none"/>
<path d="M79.0,33.95 V496.45" stroke="#000" stroke-width="1.5" fill="none"/>
<text class="b" x="65.6" y="38.2" font-size="12" text-anchor="end">60</text>
<text class="b" x="65.6" y="96.0" font-size="12" text-anchor="end">50</text>
<text class="b" x="65.6" y="153.8" font-size="12" text-anchor="end">40</text>
<text class="b" x="65.6" y="211.5" font-size="12" text-anchor="end">30</text>
<text class="b" x="65.6" y="269.2" font-size="12" text-anchor="end">20</text>
<text class="b" x="65.6" y="327.0" font-size="12" text-anchor="end">10</text>
<text class="b" x="65.6" y="384.8" font-size="12" text-anchor="end">0</text>
<text class="b" x="65.6" y="442.5" font-size="12" text-anchor="end">-10</text>
<text class="b" x="65.6" y="500.2" font-size="12" text-anchor="end">-20</text>
<text class="b" font-size="12" text-anchor="middle" transform="translate(35.3,275.2) rotate(-90)">°C</text>
<text class="b" x="155.5" y="522.1" font-size="12" text-anchor="middle" letter-spacing="0.15">12:00</text>
<text class="b" x="271.5" y="522.1" font-size="12" text-anchor="middle" letter-spacing="0.15">15:00</text>
<text class="b" x="387.5" y="522.1" font-size="12" text-anchor="middle" letter-spacing="0.15">18:00</text>
<text class="b" x="503.5" y="522.1" font-size="12" text-anchor="middle" letter-spacing="0.15">21:00</text>
<text class="b" x="618.3" y="522.1" font-size="12" text-anchor="middle" letter-spacing="0.15">Wed 28</text>
<text class="b" x="734.3" y="522.1" font-size="12" text-anchor="middle" letter-spacing="0.15">3:00</text>
<text class="b" x="850.3" y="522.1" font-size="12" text-anchor="middle" letter-spacing="0.15">6:00</text>
<text class="b" x="966.3" y="522.1" font-size="12" text-anchor="middle" letter-spacing="0.15">9:00</text>
<rect x="139.80" y="14.75" width="32.2" height="3.50" fill="#0000ff" stroke="#000" stroke-width="1"/>
<text x="177.1" y="18.7" font-size="10.7" fill="#000">ka: 24.90 °C</text>
<text class="b" x="155.3" y="30.9" font-size="10" text-anchor="middle" fill="#000">ILP Imuilma (CH0)</text>
<rect x="294.20" y="14.75" width="32.2" height="3.50" fill="#ff4040" stroke="#000" stroke-width="1"/>
<text x="332.7" y="18.7" font-size="10.7" fill="#000">ka: 38.50 °C</text>
<text class="b" x="309.7" y="30.9" font-size="10" text-anchor="middle" fill="#000">ILP Puhallusilma (CH1)</text>
<rect x="448.60" y="13.70" width="32.2" height="5.60" fill="#258000" stroke="#000" stroke-width="1"/>
<text x="488.3" y="18.7" font-size="10.7" fill="#000">ka: 21.99 °C</text>
<text class="b" x="464.1" y="30.9" font-size="10" text-anchor="middle" fill="#000">Huoneilma (CH2)</text>
<rect x="603.00" y="14.75" width="32.2" height="3.50" fill="#000000" stroke="#000" stroke-width="1"/>
<text x="643.9" y="18.7" font-size="10.7" fill="#000">ka: 1.52 °C</text>
<text class="b" x="618.5" y="30.9" font-size="10" text-anchor="middle" fill="#000">LTO Tuloilma (CH3)</text>
<rect x="757.40" y="14.75" width="32.2" height="3.50" fill="#ff00cc" stroke="#000" stroke-width="1"/>
<text x="799.5" y="18.7" font-size="10.7" fill="#000">ka: 8.91 °C</text>
<text class="b" x="772.9" y="30.9" font-size="10" text-anchor="middle" fill="#000">LTO Lämm/jäähd. (CH4-CH3)</text>
<rect x="911.80" y="14.75" width="32.2" height="3.50" fill="#800000" stroke="#000" stroke-width="1"/>
<text class="b" x="927.3" y="30.9" font-size="10" text-anchor="middle" fill="#000">ILP Lämm/jäähd. (CH1-CH0)</text>
<text class="mb" x="186.5" y="56.8" font-size="13.47" letter-spacing="0.80" xml:space="preserve">Lämmitys Auto +1, Puhallus Auto</text>
<text class="mb" x="850" y="47.8" font-size="11.47" letter-spacing="0.68" xml:space="preserve">Ulko LT °C RH %</text>
<text class="mb" x="850" y="62.1" font-size="11.47" letter-spacing="0.68" xml:space="preserve">Avg   +0,3  95</text>
<text class="mb" x="850" y="76.4" font-size="11.47" letter-spacing="0.68" xml:space="preserve">Max   +1,4 100</text>
<text class="mb" x="850" y="90.7" font-size="11.47" letter-spacing="0.68" xml:space="preserve">Min   -1,2  91</text>
<text class="mb" x="377.4" y="392.5" font-size="11.28" letter-spacing="0.67" xml:space="preserve">Liesi-</text>
<text class="mb" x="377.4" y="406.9" font-size="11.28" letter-spacing="0.67" xml:space="preserve">tuule-</text>
<text class="mb" x="377.4" y="421.4" font-size="11.28" letter-spacing="0.67" xml:space="preserve">tin Max</text>
<path d="M374.6,410.6 L334,390.8" stroke="#0000ff" stroke-width="2.5" stroke-linecap="round" fill="none"/>
<path d="M325.9,386.9 L340.6,389.1 L336.5,395.9 Z" fill="#0000ff"/>
<text class="m" x="154.9" y="450.9" font-size="13.35" letter-spacing="0.79" text-anchor="middle">+1,2°C</text>
<text class="m" x="154.9" y="468.0" font-size="13.35" letter-spacing="0.79" text-anchor="middle">100%</text>
<text class="m" x="270.9" y="450.9" font-size="13.35" letter-spacing="0.79" text-anchor="middle">+1,1°C</text>
<text class="m" x="270.9" y="468.0" font-size="13.35" letter-spacing="0.79" text-anchor="middle">97%</text>
<text class="m" x="386.9" y="450.5" font-size="13.35" letter-spacing="0.79" text-anchor="middle">+1,0°C</text>
<text class="m" x="386.9" y="467.7" font-size="13.35" letter-spacing="0.79" text-anchor="middle">97%</text>
<text class="m" x="502.9" y="448.9" font-size="13.35" letter-spacing="0.79" text-anchor="middle">-0,6°C</text>
<text class="m" x="502.9" y="465.8" font-size="13.35" letter-spacing="0.79" text-anchor="middle">96%</text>
<text class="m" x="618.9" y="449.7" font-size="13.35" letter-spacing="0.79" text-anchor="middle">-0,0°C</text>
<text class="m" x="618.9" y="467.0" font-size="13.35" letter-spacing="0.79" text-anchor="middle">93%</text>
<text class="m" x="734.9" y="448.1" font-size="13.35" letter-spacing="0.79" text-anchor="middle">+0,1°C</text>
<text class="m" x="734.9" y="465.4" font-size="13.35" letter-spacing="0.79" text-anchor="middle">95%</text>
<text class="m" x="850.9" y="449.1" font-size="13.35" letter-spacing="0.79" text-anchor="middle">-0,3°C</text>
<text class="m" x="850.9" y="466.1" font-size="13.35" letter-spacing="0.79" text-anchor="middle">93%</text>
<text class="m" x="966.9" y="450.0" font-size="13.35" letter-spacing="0.79" text-anchor="middle">-1,1°C</text>
<text class="m" x="966.9" y="467.0" font-size="13.35" letter-spacing="0.79" text-anchor="middle">91%</text>
<text class="b" x="97.3" y="487" font-size="11.6" fill="#0000ff" text-anchor="middle">531</text>
<text class="b" x="136.0" y="487" font-size="11.6" fill="#0000ff" text-anchor="middle">527</text>
<text class="b" x="174.8" y="487" font-size="11.6" fill="#0000ff" text-anchor="middle">672</text>
<text class="b" x="213.6" y="487" font-size="11.6" fill="#0000ff" text-anchor="middle">620</text>
<text class="b" x="252.3" y="487" font-size="11.6" fill="#0000ff" text-anchor="middle">566</text>
<text class="b" x="291.1" y="487" font-size="11.6" fill="#0000ff" text-anchor="middle">576</text>
<text class="b" x="329.9" y="487" font-size="11.6" fill="#0000ff" text-anchor="middle">556</text>
<text class="b" x="368.6" y="487" font-size="11.6" fill="#0000ff" text-anchor="middle">540</text>
<text class="b" x="407.4" y="487" font-size="11.6" fill="#0000ff" text-anchor="middle">529</text>
<text class="b" x="446.2" y="487" font-size="11.6" fill="#0000ff" text-anchor="middle">635</text>
<text class="b" x="485.0" y="487" font-size="11.6" fill="#0000ff" text-anchor="middle">568</text>
<text class="b" x="523.7" y="487" font-size="11.6" fill="#0000ff" text-anchor="middle">527</text>
<text class="b" x="562.5" y="487" font-size="11.6" fill="#0000ff" text-anchor="middle">523</text>
<text class="b" x="601.3" y="487" font-size="11.6" fill="#0000ff" text-anchor="middle">524</text>
<text class="b" x="640.0" y="487" font-size="11.6" fill="#0000ff" text-anchor="middle">544</text>
<text class="b" x="678.8" y="487" font-size="11.6" fill="#0000ff" text-anchor="middle">554</text>
<text class="b" x="717.6" y="487" font-size="11.6" fill="#0000ff" text-anchor="middle">588</text>
<text class="b" x="756.3" y="487" font-size="11.6" fill="#0000ff" text-anchor="middle">753</text>
<text class="b" x="795.1" y="487" font-size="11.6" fill="#0000ff" text-anchor="middle">635</text>
<text class="b" x="833.9" y="487" font-size="11.6" fill="#0000ff" text-anchor="middle">652</text>
<text class="b" x="872.7" y="487" font-size="11.6" fill="#0000ff" text-anchor="middle">652</text>
<text class="b" x="911.4" y="487" font-size="11.6" fill="#0000ff" text-anchor="middle">814</text>
<text class="b" x="950.2" y="487" font-size="11.6" fill="#0000ff" text-anchor="middle">595</text>
<text class="b" x="989.0" y="487" font-size="11.6" fill="#0000ff" text-anchor="middle">573</text>
<text class="b" x="19.3" y="487" font-size="11" fill="#0000ff" letter-spacing="0.25">Ottoteho</text>
<text class="b" x="1022.5" y="485.8" font-size="11" fill="#0000ff" text-anchor="middle">W</text>
<text class="b" x="18.8" y="535.9" font-size="12" letter-spacing="0.2">Tue 27 Nov 2012</text>
<text class="b" x="305.5" y="540.3" font-size="12" textLength="439.5" lengthAdjust="spacing">Hitachi 18SX8 120 m² ja LTO lämpötilat (EDAM9015) ja ottoteho (EDAM9051)</text>
<rect x="807.3" y="526.4" width="95.4" height="14.8" fill="#ffff00"/>
<text class="b" x="812.3" y="537.6" font-size="12.7" fill="#0000ff" textLength="87.8" lengthAdjust="spacing">14.49 kWh/24h</text>
<text class="b" x="927.4" y="537.6" font-size="12.3" textLength="102" lengthAdjust="spacing">11/28/12 10:00:31</text>
<rect x="1044" y="38.25" width="43.8" height="221.55" fill="#b4b4b4"/>
<path d="M1044.6,259.80 V38.85 H1087.8" stroke="#ececec" stroke-width="1.2" fill="none"/>
<path d="M1087.3,39.25 V259.30 H1045" stroke="#606060" stroke-width="1" fill="none"/>
<text class="b" x="1064.4" y="19.75" font-size="11" text-anchor="middle" letter-spacing="0.0">CH0</text>
<text x="1046.5" y="34.25" font-size="10.67" fill="#0000ff" stroke="#0000ff" stroke-width="0.2">24.35 °C</text>
<rect x="1057.7" y="183.7" width="12.6" height="70.8" fill="#5c5cff"/>
<path d="M1061.8,50.50 h6.5 M1061.8,56.50 h6.5 M1061.8,62.50 h6.5 M1061.8,68.50 h6.5 M1061.8,80.50 h6.5 M1061.8,86.50 h6.5 M1061.8,92.50 h6.5 M1061.8,98.50 h6.5 M1061.8,110.50 h6.5 M1061.8,116.50 h6.5 M1061.8,122.50 h6.5 M1061.8,128.50 h6.5 M1061.8,140.50 h6.5 M1061.8,146.50 h6.5 M1061.8,152.50 h6.5 M1061.8,158.50 h6.5 M1061.8,170.50 h6.5 M1061.8,176.50 h6.5 M1061.8,182.50 h6.5 M1061.8,188.50 h6.5 M1061.8,200.50 h6.5 M1061.8,206.50 h6.5 M1061.8,212.50 h6.5 M1061.8,218.50 h6.5 M1061.8,230.50 h6.5 M1061.8,236.50 h6.5 M1061.8,242.50 h6.5 M1061.8,248.50 h6.5" stroke="#5a6e5a" stroke-width="1" fill="none"/>
<path d="M1061.8,188.50 h6.5 M1061.8,200.50 h6.5 M1061.8,206.50 h6.5 M1061.8,212.50 h6.5 M1061.8,218.50 h6.5 M1061.8,230.50 h6.5 M1061.8,236.50 h6.5 M1061.8,242.50 h6.5 M1061.8,248.50 h6.5" stroke="#32328c" stroke-width="1" fill="none"/>
<path d="M1058.8,44.50 H1071.5 M1058.8,74.50 H1071.5 M1058.8,104.50 H1071.5 M1058.8,134.50 H1071.5 M1058.8,164.50 H1071.5 M1069.8,194.50 H1071.5 M1069.8,224.50 H1071.5 M1069.8,254.50 H1071.5" stroke="#000" stroke-width="1" fill="none"/>
<path d="M1058.8,194.50 H1069.8 M1058.8,224.50 H1069.8 M1058.8,254.50 H1069.8" stroke="#1b1b4c" stroke-width="1" fill="none"/>
<path d="M1070.3,44.2 V254.5" stroke="#000" stroke-width="1.2" fill="none"/>
<text transform="translate(1075.0,47.9) scale(0.86,1)" font-size="8" fill="#202020">29</text>
<text transform="translate(1075.0,77.8) scale(0.86,1)" font-size="8" fill="#202020">28</text>
<text transform="translate(1075.0,107.7) scale(0.86,1)" font-size="8" fill="#202020">27</text>
<text transform="translate(1075.0,137.6) scale(0.86,1)" font-size="8" fill="#202020">26</text>
<text transform="translate(1075.0,167.5) scale(0.86,1)" font-size="8" fill="#202020">25</text>
<text transform="translate(1075.0,197.3) scale(0.86,1)" font-size="8" fill="#202020">24</text>
<text transform="translate(1075.0,227.3) scale(0.86,1)" font-size="8" fill="#202020">23</text>
<text transform="translate(1075.0,257.1) scale(0.86,1)" font-size="8" fill="#202020">22</text>
<path d="M1050.0,111.8 L1058.1,115.7 L1050.0,119.6 Z" fill="#ff0000"/>
<path d="M1050.0,217.6 L1058.1,221.5 L1050.0,225.4 Z" fill="#0000ff"/>
<rect x="1098" y="38.25" width="43.8" height="221.55" fill="#b4b4b4"/>
<path d="M1098.6,259.80 V38.85 H1141.8" stroke="#ececec" stroke-width="1.2" fill="none"/>
<path d="M1141.3,39.25 V259.30 H1099" stroke="#606060" stroke-width="1" fill="none"/>
<text class="b" x="1118.4" y="19.75" font-size="11" text-anchor="middle" letter-spacing="0.0">CH1</text>
<text x="1100.5" y="34.25" font-size="10.67" fill="#ff2020" stroke="#ff2020" stroke-width="0.2">38.98 °C</text>
<rect x="1112.0" y="118.0" width="12.6" height="136.5" fill="#ff0000"/>
<path d="M1116.1,48.50 h6.5 M1116.1,51.50 h6.5 M1116.1,55.50 h6.5 M1116.1,58.50 h6.5 M1116.1,65.50 h6.5 M1116.1,69.50 h6.5 M1116.1,72.50 h6.5 M1116.1,76.50 h6.5 M1116.1,83.50 h6.5 M1116.1,86.50 h6.5 M1116.1,90.50 h6.5 M1116.1,93.50 h6.5 M1116.1,100.50 h6.5 M1116.1,104.50 h6.5 M1116.1,107.50 h6.5 M1116.1,110.50 h6.5 M1116.1,117.50 h6.5 M1116.1,121.50 h6.5 M1116.1,124.50 h6.5 M1116.1,128.50 h6.5 M1116.1,135.50 h6.5 M1116.1,138.50 h6.5 M1116.1,142.50 h6.5 M1116.1,145.50 h6.5 M1116.1,152.50 h6.5 M1116.1,156.50 h6.5 M1116.1,159.50 h6.5 M1116.1,163.50 h6.5 M1116.1,170.50 h6.5 M1116.1,173.50 h6.5 M1116.1,177.50 h6.5 M1116.1,180.50 h6.5 M1116.1,187.50 h6.5 M1116.1,191.50 h6.5 M1116.1,194.50 h6.5 M1116.1,198.50 h6.5 M1116.1,205.50 h6.5 M1116.1,208.50 h6.5 M1116.1,212.50 h6.5 M1116.1,215.50 h6.5 M1116.1,222.50 h6.5 M1116.1,226.50 h6.5 M1116.1,229.50 h6.5 M1116.1,233.50 h6.5 M1116.1,240.50 h6.5 M1116.1,243.50 h6.5 M1116.1,247.50 h6.5 M1116.1,250.50 h6.5" stroke="#5a6e5a" stroke-width="1" fill="none"/>
<path d="M1116.1,121.50 h6.5 M1116.1,124.50 h6.5 M1116.1,128.50 h6.5 M1116.1,135.50 h6.5 M1116.1,138.50 h6.5 M1116.1,142.50 h6.5 M1116.1,145.50 h6.5 M1116.1,152.50 h6.5 M1116.1,156.50 h6.5 M1116.1,159.50 h6.5 M1116.1,163.50 h6.5 M1116.1,170.50 h6.5 M1116.1,173.50 h6.5 M1116.1,177.50 h6.5 M1116.1,180.50 h6.5 M1116.1,187.50 h6.5 M1116.1,191.50 h6.5 M1116.1,194.50 h6.5 M1116.1,198.50 h6.5 M1116.1,205.50 h6.5 M1116.1,208.50 h6.5 M1116.1,212.50 h6.5 M1116.1,215.50 h6.5 M1116.1,222.50 h6.5 M1116.1,226.50 h6.5 M1116.1,229.50 h6.5 M1116.1,233.50 h6.5 M1116.1,240.50 h6.5 M1116.1,243.50 h6.5 M1116.1,247.50 h6.5 M1116.1,250.50 h6.5" stroke="#8c0000" stroke-width="1" fill="none"/>
<path d="M1113.1,44.50 H1125.8 M1113.1,62.50 H1125.8 M1113.1,79.50 H1125.8 M1113.1,97.50 H1125.8 M1113.1,114.50 H1125.8 M1124.1,131.50 H1125.8 M1124.1,149.50 H1125.8 M1124.1,166.50 H1125.8 M1124.1,184.50 H1125.8 M1124.1,201.50 H1125.8 M1124.1,219.50 H1125.8 M1124.1,236.50 H1125.8 M1124.1,254.50 H1125.8" stroke="#000" stroke-width="1" fill="none"/>
<path d="M1113.1,131.50 H1124.1 M1113.1,149.50 H1124.1 M1113.1,166.50 H1124.1 M1113.1,184.50 H1124.1 M1113.1,201.50 H1124.1 M1113.1,219.50 H1124.1 M1113.1,236.50 H1124.1 M1113.1,254.50 H1124.1" stroke="#4c0000" stroke-width="1" fill="none"/>
<path d="M1124.6,44.2 V254.5" stroke="#000" stroke-width="1.2" fill="none"/>
<text transform="translate(1129.3,47.9) scale(0.86,1)" font-size="8" fill="#202020">60</text>
<text transform="translate(1129.3,65.3) scale(0.86,1)" font-size="8" fill="#202020">55</text>
<text transform="translate(1129.3,82.7) scale(0.86,1)" font-size="8" fill="#202020">50</text>
<text transform="translate(1129.3,100.2) scale(0.86,1)" font-size="8" fill="#202020">45</text>
<text transform="translate(1129.3,117.6) scale(0.86,1)" font-size="8" fill="#202020">40</text>
<text transform="translate(1129.3,135.1) scale(0.86,1)" font-size="8" fill="#202020">35</text>
<text transform="translate(1129.3,152.5) scale(0.86,1)" font-size="8" fill="#202020">30</text>
<text transform="translate(1129.3,169.9) scale(0.86,1)" font-size="8" fill="#202020">25</text>
<text transform="translate(1129.3,187.4) scale(0.86,1)" font-size="8" fill="#202020">20</text>
<text transform="translate(1129.3,204.8) scale(0.86,1)" font-size="8" fill="#202020">15</text>
<text transform="translate(1129.3,222.3) scale(0.86,1)" font-size="8" fill="#202020">10</text>
<text transform="translate(1129.3,239.7) scale(0.86,1)" font-size="8" fill="#202020">5</text>
<text transform="translate(1129.3,257.1) scale(0.86,1)" font-size="8" fill="#202020">0</text>
<path d="M1104.3,54.1 L1112.4,58.0 L1104.3,61.9 Z" fill="#ff0000"/>
<path d="M1104.3,215.4 L1112.4,219.3 L1104.3,223.2 Z" fill="#0000ff"/>
<rect x="1152" y="38.25" width="43.8" height="221.55" fill="#b4b4b4"/>
<path d="M1152.6,259.80 V38.85 H1195.8" stroke="#ececec" stroke-width="1.2" fill="none"/>
<path d="M1195.3,39.25 V259.30 H1153" stroke="#606060" stroke-width="1" fill="none"/>
<text class="b" x="1172.4" y="19.75" font-size="11" text-anchor="middle" letter-spacing="0.0">CH2</text>
<text x="1154.5" y="34.25" font-size="10.67" fill="#109010" stroke="#109010" stroke-width="0.2">21.70 °C</text>
<rect x="1166.2" y="182.8" width="12.6" height="71.7" fill="#008000"/>
<path d="M1170.3,53.50 h6.5 M1170.3,61.50 h6.5 M1170.3,69.50 h6.5 M1170.3,78.50 h6.5 M1170.3,94.50 h6.5 M1170.3,103.50 h6.5 M1170.3,111.50 h6.5 M1170.3,120.50 h6.5 M1170.3,136.50 h6.5 M1170.3,145.50 h6.5 M1170.3,153.50 h6.5 M1170.3,161.50 h6.5 M1170.3,178.50 h6.5 M1170.3,187.50 h6.5 M1170.3,195.50 h6.5 M1170.3,203.50 h6.5 M1170.3,220.50 h6.5 M1170.3,228.50 h6.5 M1170.3,237.50 h6.5 M1170.3,245.50 h6.5" stroke="#5a6e5a" stroke-width="1" fill="none"/>
<path d="M1170.3,187.50 h6.5 M1170.3,195.50 h6.5 M1170.3,203.50 h6.5 M1170.3,220.50 h6.5 M1170.3,228.50 h6.5 M1170.3,237.50 h6.5 M1170.3,245.50 h6.5" stroke="#004600" stroke-width="1" fill="none"/>
<path d="M1167.3,44.50 H1180.0 M1167.3,86.50 H1180.0 M1167.3,128.50 H1180.0 M1167.3,170.50 H1180.0 M1178.3,212.50 H1180.0 M1178.3,254.50 H1180.0" stroke="#000" stroke-width="1" fill="none"/>
<path d="M1167.3,212.50 H1178.3 M1167.3,254.50 H1178.3" stroke="#002600" stroke-width="1" fill="none"/>
<path d="M1178.8,44.2 V254.5" stroke="#000" stroke-width="1.2" fill="none"/>
<text transform="translate(1183.5,47.9) scale(0.86,1)" font-size="8" fill="#202020">25</text>
<text transform="translate(1183.5,89.7) scale(0.86,1)" font-size="8" fill="#202020">24</text>
<text transform="translate(1183.5,131.6) scale(0.86,1)" font-size="8" fill="#202020">23</text>
<text transform="translate(1183.5,173.4) scale(0.86,1)" font-size="8" fill="#202020">22</text>
<text transform="translate(1183.5,215.3) scale(0.86,1)" font-size="8" fill="#202020">21</text>
<text transform="translate(1183.5,257.1) scale(0.86,1)" font-size="8" fill="#202020">20</text>
<path d="M1158.5,157.5 L1166.6,161.4 L1158.5,165.3 Z" fill="#ff0000"/>
<path d="M1158.5,185.0 L1166.6,188.9 L1158.5,192.8 Z" fill="#0000ff"/>
<rect x="1044" y="323.25" width="43.8" height="220.85" fill="#b4b4b4"/>
<path d="M1044.6,544.10 V323.85 H1087.8" stroke="#ececec" stroke-width="1.2" fill="none"/>
<path d="M1087.3,324.25 V543.60 H1045" stroke="#606060" stroke-width="1" fill="none"/>
<text class="b" x="1064.4" y="304.75" font-size="11" text-anchor="middle" letter-spacing="0.0">CH3</text>
<text x="1046.5" y="319.75" font-size="10.67" fill="#202020" stroke="#202020" stroke-width="0.2">0.13 °C</text>
<rect x="1057.7" y="486.0" width="12.6" height="53.5" fill="#646464"/>
<path d="M1061.8,334.50 h6.5 M1061.8,340.50 h6.5 M1061.8,345.50 h6.5 M1061.8,350.50 h6.5 M1061.8,361.50 h6.5 M1061.8,366.50 h6.5 M1061.8,371.50 h6.5 M1061.8,376.50 h6.5 M1061.8,387.50 h6.5 M1061.8,392.50 h6.5 M1061.8,397.50 h6.5 M1061.8,402.50 h6.5 M1061.8,413.50 h6.5 M1061.8,418.50 h6.5 M1061.8,423.50 h6.5 M1061.8,429.50 h6.5 M1061.8,439.50 h6.5 M1061.8,444.50 h6.5 M1061.8,450.50 h6.5 M1061.8,455.50 h6.5 M1061.8,465.50 h6.5 M1061.8,470.50 h6.5 M1061.8,476.50 h6.5 M1061.8,481.50 h6.5 M1061.8,491.50 h6.5 M1061.8,497.50 h6.5 M1061.8,502.50 h6.5 M1061.8,507.50 h6.5 M1061.8,518.50 h6.5 M1061.8,523.50 h6.5 M1061.8,528.50 h6.5 M1061.8,533.50 h6.5" stroke="#5a6e5a" stroke-width="1" fill="none"/>
<path d="M1061.8,491.50 h6.5 M1061.8,497.50 h6.5 M1061.8,502.50 h6.5 M1061.8,507.50 h6.5 M1061.8,518.50 h6.5 M1061.8,523.50 h6.5 M1061.8,528.50 h6.5 M1061.8,533.50 h6.5" stroke="#373737" stroke-width="1" fill="none"/>
<path d="M1058.8,329.50 H1071.5 M1058.8,355.50 H1071.5 M1058.8,382.50 H1071.5 M1058.8,408.50 H1071.5 M1058.8,434.50 H1071.5 M1058.8,460.50 H1071.5 M1069.8,486.50 H1071.5 M1069.8,512.50 H1071.5 M1069.8,539.50 H1071.5" stroke="#000" stroke-width="1" fill="none"/>
<path d="M1058.8,486.50 H1069.8 M1058.8,512.50 H1069.8 M1058.8,539.50 H1069.8" stroke="#1e1e1e" stroke-width="1" fill="none"/>
<path d="M1070.3,329.2 V539.5" stroke="#000" stroke-width="1.2" fill="none"/>
<text transform="translate(1075.0,332.8) scale(0.86,1)" font-size="8" fill="#202020">30</text>
<text transform="translate(1075.0,359.0) scale(0.86,1)" font-size="8" fill="#202020">25</text>
<text transform="translate(1075.0,385.2) scale(0.86,1)" font-size="8" fill="#202020">20</text>
<text transform="translate(1075.0,411.3) scale(0.86,1)" font-size="8" fill="#202020">15</text>
<text transform="translate(1075.0,437.5) scale(0.86,1)" font-size="8" fill="#202020">10</text>
<text transform="translate(1075.0,463.7) scale(0.86,1)" font-size="8" fill="#202020">5</text>
<text transform="translate(1075.0,489.8) scale(0.86,1)" font-size="8" fill="#202020">0</text>
<text transform="translate(1075.0,516.0) scale(0.86,1)" font-size="8" fill="#202020">-5</text>
<text transform="translate(1075.0,542.1) scale(0.86,1)" font-size="8" fill="#202020">-10</text>
<path d="M1050.0,464.0 L1058.1,467.9 L1050.0,471.8 Z" fill="#ff0000"/>
<path d="M1050.0,484.3 L1058.1,488.2 L1050.0,492.1 Z" fill="#0000ff"/>
<rect x="1098" y="323.25" width="43.8" height="220.85" fill="#b4b4b4"/>
<path d="M1098.6,544.10 V323.85 H1141.8" stroke="#ececec" stroke-width="1.2" fill="none"/>
<path d="M1141.3,324.25 V543.60 H1099" stroke="#606060" stroke-width="1" fill="none"/>
<text class="b" x="1120.0" y="304.75" font-size="11" text-anchor="middle" letter-spacing="0.12">CH4-CH3</text>
<text x="1100.5" y="319.75" font-size="10.67" fill="#d000d0" stroke="#d000d0" stroke-width="0.2">9.45 °C</text>
<rect x="1112.0" y="422.7" width="12.6" height="116.8" fill="#ff00ff"/>
<path d="M1116.1,335.50 h6.5 M1116.1,341.50 h6.5 M1116.1,347.50 h6.5 M1116.1,353.50 h6.5 M1116.1,365.50 h6.5 M1116.1,371.50 h6.5 M1116.1,377.50 h6.5 M1116.1,383.50 h6.5 M1116.1,395.50 h6.5 M1116.1,401.50 h6.5 M1116.1,407.50 h6.5 M1116.1,413.50 h6.5 M1116.1,425.50 h6.5 M1116.1,431.50 h6.5 M1116.1,437.50 h6.5 M1116.1,443.50 h6.5 M1116.1,455.50 h6.5 M1116.1,461.50 h6.5 M1116.1,467.50 h6.5 M1116.1,473.50 h6.5 M1116.1,485.50 h6.5 M1116.1,491.50 h6.5 M1116.1,497.50 h6.5 M1116.1,503.50 h6.5 M1116.1,515.50 h6.5 M1116.1,521.50 h6.5 M1116.1,527.50 h6.5 M1116.1,533.50 h6.5" stroke="#5a6e5a" stroke-width="1" fill="none"/>
<path d="M1116.1,425.50 h6.5 M1116.1,431.50 h6.5 M1116.1,437.50 h6.5 M1116.1,443.50 h6.5 M1116.1,455.50 h6.5 M1116.1,461.50 h6.5 M1116.1,467.50 h6.5 M1116.1,473.50 h6.5 M1116.1,485.50 h6.5 M1116.1,491.50 h6.5 M1116.1,497.50 h6.5 M1116.1,503.50 h6.5 M1116.1,515.50 h6.5 M1116.1,521.50 h6.5 M1116.1,527.50 h6.5 M1116.1,533.50 h6.5" stroke="#8c008c" stroke-width="1" fill="none"/>
<path d="M1113.1,329.50 H1125.8 M1113.1,359.50 H1125.8 M1113.1,389.50 H1125.8 M1113.1,419.50 H1125.8 M1124.1,449.50 H1125.8 M1124.1,479.50 H1125.8 M1124.1,509.50 H1125.8 M1124.1,539.50 H1125.8" stroke="#000" stroke-width="1" fill="none"/>
<path d="M1113.1,449.50 H1124.1 M1113.1,479.50 H1124.1 M1113.1,509.50 H1124.1 M1113.1,539.50 H1124.1" stroke="#4c004c" stroke-width="1" fill="none"/>
<path d="M1124.6,329.2 V539.5" stroke="#000" stroke-width="1.2" fill="none"/>
<text transform="translate(1129.3,332.8) scale(0.86,1)" font-size="8" fill="#202020">25</text>
<text transform="translate(1129.3,362.7) scale(0.86,1)" font-size="8" fill="#202020">20</text>
<text transform="translate(1129.3,392.6) scale(0.86,1)" font-size="8" fill="#202020">15</text>
<text transform="translate(1129.3,422.5) scale(0.86,1)" font-size="8" fill="#202020">10</text>
<text transform="translate(1129.3,452.4) scale(0.86,1)" font-size="8" fill="#202020">5</text>
<text transform="translate(1129.3,482.3) scale(0.86,1)" font-size="8" fill="#202020">0</text>
<text transform="translate(1129.3,512.2) scale(0.86,1)" font-size="8" fill="#202020">-5</text>
<text transform="translate(1129.3,542.1) scale(0.86,1)" font-size="8" fill="#202020">-10</text>
<path d="M1104.3,407.5 L1112.4,411.4 L1104.3,415.3 Z" fill="#ff0000"/>
<path d="M1104.3,420.5 L1112.4,424.4 L1104.3,428.3 Z" fill="#0000ff"/>
<rect x="1152" y="323.25" width="43.8" height="220.85" fill="#b4b4b4"/>
<path d="M1152.6,544.10 V323.85 H1195.8" stroke="#ececec" stroke-width="1.2" fill="none"/>
<path d="M1195.3,324.25 V543.60 H1153" stroke="#606060" stroke-width="1" fill="none"/>
<text class="b" x="1174.0" y="304.75" font-size="11" text-anchor="middle" letter-spacing="0.12">CH1-CH0</text>
<text x="1154.5" y="319.75" font-size="10.67" fill="#c01010" stroke="#c01010" stroke-width="0.2">14.75 °C</text>
<rect x="1166.2" y="382.9" width="12.6" height="156.6" fill="#ff5000"/>
<path d="M1170.3,333.50 h6.5 M1170.3,336.50 h6.5 M1170.3,340.50 h6.5 M1170.3,343.50 h6.5 M1170.3,350.50 h6.5 M1170.3,354.50 h6.5 M1170.3,357.50 h6.5 M1170.3,361.50 h6.5 M1170.3,368.50 h6.5 M1170.3,371.50 h6.5 M1170.3,375.50 h6.5 M1170.3,378.50 h6.5 M1170.3,385.50 h6.5 M1170.3,389.50 h6.5 M1170.3,392.50 h6.5 M1170.3,395.50 h6.5 M1170.3,402.50 h6.5 M1170.3,406.50 h6.5 M1170.3,409.50 h6.5 M1170.3,413.50 h6.5 M1170.3,420.50 h6.5 M1170.3,423.50 h6.5 M1170.3,427.50 h6.5 M1170.3,430.50 h6.5 M1170.3,437.50 h6.5 M1170.3,441.50 h6.5 M1170.3,444.50 h6.5 M1170.3,448.50 h6.5 M1170.3,455.50 h6.5 M1170.3,458.50 h6.5 M1170.3,462.50 h6.5 M1170.3,465.50 h6.5 M1170.3,472.50 h6.5 M1170.3,476.50 h6.5 M1170.3,479.50 h6.5 M1170.3,483.50 h6.5 M1170.3,490.50 h6.5 M1170.3,493.50 h6.5 M1170.3,497.50 h6.5 M1170.3,500.50 h6.5 M1170.3,507.50 h6.5 M1170.3,511.50 h6.5 M1170.3,514.50 h6.5 M1170.3,518.50 h6.5 M1170.3,525.50 h6.5 M1170.3,528.50 h6.5 M1170.3,532.50 h6.5 M1170.3,535.50 h6.5" stroke="#5a6e5a" stroke-width="1" fill="none"/>
<path d="M1170.3,385.50 h6.5 M1170.3,389.50 h6.5 M1170.3,392.50 h6.5 M1170.3,395.50 h6.5 M1170.3,402.50 h6.5 M1170.3,406.50 h6.5 M1170.3,409.50 h6.5 M1170.3,413.50 h6.5 M1170.3,420.50 h6.5 M1170.3,423.50 h6.5 M1170.3,427.50 h6.5 M1170.3,430.50 h6.5 M1170.3,437.50 h6.5 M1170.3,441.50 h6.5 M1170.3,444.50 h6.5 M1170.3,448.50 h6.5 M1170.3,455.50 h6.5 M1170.3,458.50 h6.5 M1170.3,462.50 h6.5 M1170.3,465.50 h6.5 M1170.3,472.50 h6.5 M1170.3,476.50 h6.5 M1170.3,479.50 h6.5 M1170.3,483.50 h6.5 M1170.3,490.50 h6.5 M1170.3,493.50 h6.5 M1170.3,497.50 h6.5 M1170.3,500.50 h6.5 M1170.3,507.50 h6.5 M1170.3,511.50 h6.5 M1170.3,514.50 h6.5 M1170.3,518.50 h6.5 M1170.3,525.50 h6.5 M1170.3,528.50 h6.5 M1170.3,532.50 h6.5 M1170.3,535.50 h6.5" stroke="#8c2c00" stroke-width="1" fill="none"/>
<path d="M1167.3,329.50 H1180.0 M1167.3,347.50 H1180.0 M1167.3,364.50 H1180.0 M1167.3,382.50 H1180.0 M1178.3,399.50 H1180.0 M1178.3,416.50 H1180.0 M1178.3,434.50 H1180.0 M1178.3,451.50 H1180.0 M1178.3,469.50 H1180.0 M1178.3,486.50 H1180.0 M1178.3,504.50 H1180.0 M1178.3,521.50 H1180.0 M1178.3,539.50 H1180.0" stroke="#000" stroke-width="1" fill="none"/>
<path d="M1167.3,399.50 H1178.3 M1167.3,416.50 H1178.3 M1167.3,434.50 H1178.3 M1167.3,451.50 H1178.3 M1167.3,469.50 H1178.3 M1167.3,486.50 H1178.3 M1167.3,504.50 H1178.3 M1167.3,521.50 H1178.3 M1167.3,539.50 H1178.3" stroke="#4c1800" stroke-width="1" fill="none"/>
<path d="M1178.8,329.2 V539.5" stroke="#000" stroke-width="1.2" fill="none"/>
<text transform="translate(1183.5,332.8) scale(0.86,1)" font-size="8" fill="#202020">30</text>
<text transform="translate(1183.5,350.3) scale(0.86,1)" font-size="8" fill="#202020">25</text>
<text transform="translate(1183.5,367.7) scale(0.86,1)" font-size="8" fill="#202020">20</text>
<text transform="translate(1183.5,385.2) scale(0.86,1)" font-size="8" fill="#202020">15</text>
<text transform="translate(1183.5,402.6) scale(0.86,1)" font-size="8" fill="#202020">10</text>
<text transform="translate(1183.5,420.1) scale(0.86,1)" font-size="8" fill="#202020">5</text>
<text transform="translate(1183.5,437.5) scale(0.86,1)" font-size="8" fill="#202020">0</text>
<text transform="translate(1183.5,454.9) scale(0.86,1)" font-size="8" fill="#202020">-5</text>
<text transform="translate(1183.5,472.4) scale(0.86,1)" font-size="8" fill="#202020">-10</text>
<text transform="translate(1183.5,489.8) scale(0.86,1)" font-size="8" fill="#202020">-15</text>
<text transform="translate(1183.5,507.3) scale(0.86,1)" font-size="8" fill="#202020">-20</text>
<text transform="translate(1183.5,524.7) scale(0.86,1)" font-size="8" fill="#202020">-25</text>
<text transform="translate(1183.5,542.1) scale(0.86,1)" font-size="8" fill="#202020">-30</text>
<path d="M1158.5,326.4 L1166.6,330.3 L1158.5,334.2 Z" fill="#ff0000"/>
<path d="M1158.5,478.4 L1166.6,482.3 L1158.5,486.2 Z" fill="#0000ff"/>
</svg></body></html>
